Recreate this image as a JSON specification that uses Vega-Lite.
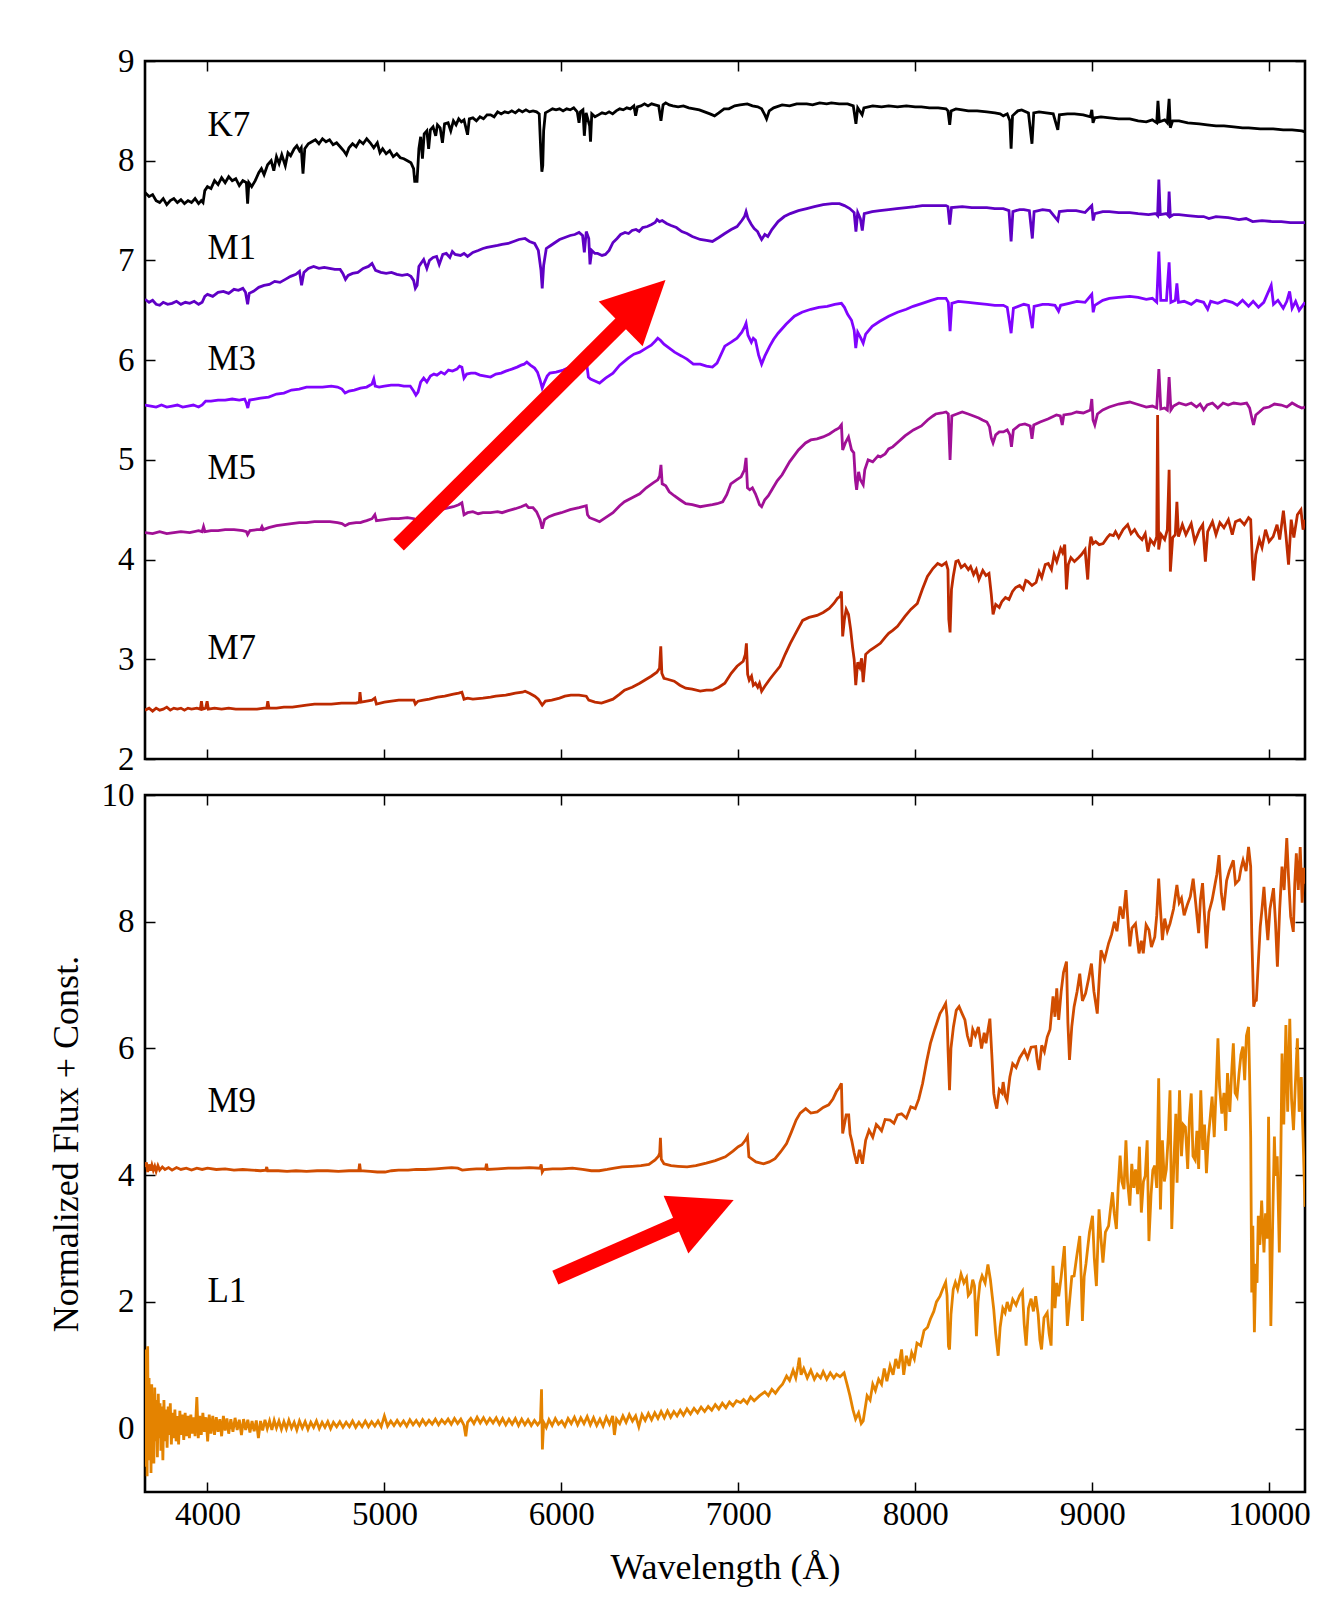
{
"$schema":"https://vega.github.io/schema/vega-lite/v6.json",
"background":"white",
"padding":{"left":46,"top":43,"right":10,"bottom":10},
"spacing":36,
"bounds":"flush",
"config":{
"view":{"stroke":"black","strokeWidth":2.6},
"axis":{"domain":false,"grid":false,"ticks":true,"tickColor":"black","tickWidth":1.5,"tickSize":-10,"labelFont":"Liberation Serif","labelFontSize":33,"labelColor":"black","titleFont":"Liberation Serif","titleFontSize":36,"titleFontWeight":"normal","titleColor":"black","labelFlush":false,"labelOverlap":false},
"axisX":{"labelPadding":16,"titlePadding":19},
"axisY":{"labelPadding":21,"titlePadding":16},
"text":{"font":"Liberation Serif"}
},
"datasets":{
"top":[
{"s":"K7","w":3647,"f":7.68},{"s":"K7","w":3670,"f":7.64},{"s":"K7","w":3690,"f":7.66},{"s":"K7","w":3710,"f":7.6},{"s":"K7","w":3730,"f":7.58},{"s":"K7","w":3750,"f":7.62},{"s":"K7","w":3770,"f":7.56},{"s":"K7","w":3790,"f":7.6},{"s":"K7","w":3810,"f":7.62},{"s":"K7","w":3830,"f":7.58},{"s":"K7","w":3850,"f":7.61},{"s":"K7","w":3870,"f":7.57},{"s":"K7","w":3890,"f":7.6},{"s":"K7","w":3910,"f":7.58},{"s":"K7","w":3930,"f":7.62},{"s":"K7","w":3950,"f":7.57},{"s":"K7","w":3965,"f":7.6},{"s":"K7","w":3975,"f":7.58},{"s":"K7","w":3985,"f":7.7},{"s":"K7","w":4000,"f":7.74},{"s":"K7","w":4020,"f":7.72},{"s":"K7","w":4040,"f":7.8},{"s":"K7","w":4060,"f":7.76},{"s":"K7","w":4080,"f":7.83},{"s":"K7","w":4100,"f":7.78},{"s":"K7","w":4120,"f":7.84},{"s":"K7","w":4140,"f":7.8},{"s":"K7","w":4160,"f":7.82},{"s":"K7","w":4180,"f":7.75},{"s":"K7","w":4200,"f":7.8},{"s":"K7","w":4220,"f":7.78},{"s":"K7","w":4227,"f":7.57},{"s":"K7","w":4234,"f":7.78},{"s":"K7","w":4250,"f":7.74},{"s":"K7","w":4270,"f":7.8},{"s":"K7","w":4290,"f":7.88},{"s":"K7","w":4305,"f":7.92},{"s":"K7","w":4320,"f":7.86},{"s":"K7","w":4340,"f":7.96},{"s":"K7","w":4360,"f":8.0},{"s":"K7","w":4375,"f":7.9},{"s":"K7","w":4390,"f":8.04},{"s":"K7","w":4405,"f":7.97},{"s":"K7","w":4420,"f":8.06},{"s":"K7","w":4440,"f":7.95},{"s":"K7","w":4455,"f":8.08},{"s":"K7","w":4470,"f":8.05},{"s":"K7","w":4490,"f":8.12},{"s":"K7","w":4505,"f":8.15},{"s":"K7","w":4520,"f":8.1},{"s":"K7","w":4530,"f":8.13},{"s":"K7","w":4540,"f":7.87},{"s":"K7","w":4550,"f":8.12},{"s":"K7","w":4570,"f":8.17},{"s":"K7","w":4590,"f":8.19},{"s":"K7","w":4610,"f":8.21},{"s":"K7","w":4630,"f":8.17},{"s":"K7","w":4650,"f":8.22},{"s":"K7","w":4670,"f":8.19},{"s":"K7","w":4690,"f":8.21},{"s":"K7","w":4710,"f":8.16},{"s":"K7","w":4730,"f":8.18},{"s":"K7","w":4750,"f":8.14},{"s":"K7","w":4770,"f":8.1},{"s":"K7","w":4785,"f":8.06},{"s":"K7","w":4800,"f":8.13},{"s":"K7","w":4820,"f":8.17},{"s":"K7","w":4840,"f":8.14},{"s":"K7","w":4860,"f":8.2},{"s":"K7","w":4880,"f":8.17},{"s":"K7","w":4900,"f":8.22},{"s":"K7","w":4920,"f":8.18},{"s":"K7","w":4940,"f":8.13},{"s":"K7","w":4960,"f":8.18},{"s":"K7","w":4975,"f":8.08},{"s":"K7","w":4990,"f":8.12},{"s":"K7","w":5010,"f":8.07},{"s":"K7","w":5030,"f":8.1},{"s":"K7","w":5050,"f":8.04},{"s":"K7","w":5070,"f":8.07},{"s":"K7","w":5090,"f":8.03},{"s":"K7","w":5110,"f":8.02},{"s":"K7","w":5130,"f":8.0},{"s":"K7","w":5150,"f":7.98},{"s":"K7","w":5165,"f":7.92},{"s":"K7","w":5172,"f":7.78},{"s":"K7","w":5178,"f":7.85},{"s":"K7","w":5184,"f":7.78},{"s":"K7","w":5195,"f":8.12},{"s":"K7","w":5205,"f":8.24},{"s":"K7","w":5215,"f":8.02},{"s":"K7","w":5225,"f":8.27},{"s":"K7","w":5240,"f":8.3},{"s":"K7","w":5250,"f":8.12},{"s":"K7","w":5260,"f":8.31},{"s":"K7","w":5275,"f":8.34},{"s":"K7","w":5290,"f":8.25},{"s":"K7","w":5300,"f":8.36},{"s":"K7","w":5315,"f":8.33},{"s":"K7","w":5328,"f":8.18},{"s":"K7","w":5340,"f":8.37},{"s":"K7","w":5360,"f":8.38},{"s":"K7","w":5375,"f":8.3},{"s":"K7","w":5390,"f":8.4},{"s":"K7","w":5405,"f":8.36},{"s":"K7","w":5420,"f":8.42},{"s":"K7","w":5435,"f":8.39},{"s":"K7","w":5450,"f":8.41},{"s":"K7","w":5470,"f":8.26},{"s":"K7","w":5480,"f":8.42},{"s":"K7","w":5500,"f":8.43},{"s":"K7","w":5520,"f":8.4},{"s":"K7","w":5540,"f":8.44},{"s":"K7","w":5560,"f":8.42},{"s":"K7","w":5580,"f":8.46},{"s":"K7","w":5600,"f":8.46},{"s":"K7","w":5620,"f":8.44},{"s":"K7","w":5640,"f":8.49},{"s":"K7","w":5660,"f":8.47},{"s":"K7","w":5680,"f":8.49},{"s":"K7","w":5700,"f":8.48},{"s":"K7","w":5720,"f":8.5},{"s":"K7","w":5740,"f":8.48},{"s":"K7","w":5760,"f":8.51},{"s":"K7","w":5780,"f":8.49},{"s":"K7","w":5800,"f":8.51},{"s":"K7","w":5820,"f":8.49},{"s":"K7","w":5840,"f":8.5},{"s":"K7","w":5860,"f":8.49},{"s":"K7","w":5875,"f":8.47},{"s":"K7","w":5885,"f":8.05},{"s":"K7","w":5890,"f":7.89},{"s":"K7","w":5895,"f":7.95},{"s":"K7","w":5900,"f":8.3},{"s":"K7","w":5910,"f":8.48},{"s":"K7","w":5930,"f":8.5},{"s":"K7","w":5950,"f":8.52},{"s":"K7","w":5970,"f":8.51},{"s":"K7","w":5990,"f":8.52},{"s":"K7","w":6010,"f":8.5},{"s":"K7","w":6030,"f":8.52},{"s":"K7","w":6050,"f":8.51},{"s":"K7","w":6070,"f":8.53},{"s":"K7","w":6090,"f":8.49},{"s":"K7","w":6100,"f":8.38},{"s":"K7","w":6108,"f":8.49},{"s":"K7","w":6122,"f":8.51},{"s":"K7","w":6130,"f":8.25},{"s":"K7","w":6140,"f":8.48},{"s":"K7","w":6160,"f":8.35},{"s":"K7","w":6165,"f":8.19},{"s":"K7","w":6172,"f":8.47},{"s":"K7","w":6190,"f":8.44},{"s":"K7","w":6210,"f":8.46},{"s":"K7","w":6230,"f":8.48},{"s":"K7","w":6250,"f":8.47},{"s":"K7","w":6270,"f":8.49},{"s":"K7","w":6290,"f":8.47},{"s":"K7","w":6310,"f":8.5},{"s":"K7","w":6330,"f":8.52},{"s":"K7","w":6350,"f":8.51},{"s":"K7","w":6370,"f":8.53},{"s":"K7","w":6390,"f":8.52},{"s":"K7","w":6410,"f":8.55},{"s":"K7","w":6420,"f":8.45},{"s":"K7","w":6430,"f":8.54},{"s":"K7","w":6450,"f":8.55},{"s":"K7","w":6470,"f":8.57},{"s":"K7","w":6490,"f":8.55},{"s":"K7","w":6510,"f":8.57},{"s":"K7","w":6530,"f":8.56},{"s":"K7","w":6550,"f":8.55},{"s":"K7","w":6563,"f":8.4},{"s":"K7","w":6575,"f":8.56},{"s":"K7","w":6590,"f":8.58},{"s":"K7","w":6610,"f":8.56},{"s":"K7","w":6630,"f":8.55},{"s":"K7","w":6660,"f":8.54},{"s":"K7","w":6690,"f":8.55},{"s":"K7","w":6720,"f":8.53},{"s":"K7","w":6750,"f":8.52},{"s":"K7","w":6780,"f":8.51},{"s":"K7","w":6810,"f":8.49},{"s":"K7","w":6840,"f":8.47},{"s":"K7","w":6866,"f":8.45},{"s":"K7","w":6890,"f":8.48},{"s":"K7","w":6920,"f":8.52},{"s":"K7","w":6947,"f":8.52},{"s":"K7","w":6980,"f":8.55},{"s":"K7","w":7010,"f":8.56},{"s":"K7","w":7051,"f":8.57},{"s":"K7","w":7080,"f":8.55},{"s":"K7","w":7110,"f":8.54},{"s":"K7","w":7132,"f":8.52},{"s":"K7","w":7150,"f":8.46},{"s":"K7","w":7160,"f":8.42},{"s":"K7","w":7175,"f":8.5},{"s":"K7","w":7200,"f":8.53},{"s":"K7","w":7248,"f":8.56},{"s":"K7","w":7290,"f":8.55},{"s":"K7","w":7330,"f":8.57},{"s":"K7","w":7387,"f":8.57},{"s":"K7","w":7420,"f":8.56},{"s":"K7","w":7460,"f":8.58},{"s":"K7","w":7500,"f":8.57},{"s":"K7","w":7526,"f":8.58},{"s":"K7","w":7570,"f":8.57},{"s":"K7","w":7618,"f":8.57},{"s":"K7","w":7650,"f":8.55},{"s":"K7","w":7665,"f":8.37},{"s":"K7","w":7675,"f":8.53},{"s":"K7","w":7700,"f":8.46},{"s":"K7","w":7710,"f":8.53},{"s":"K7","w":7760,"f":8.55},{"s":"K7","w":7810,"f":8.54},{"s":"K7","w":7850,"f":8.55},{"s":"K7","w":7900,"f":8.54},{"s":"K7","w":7950,"f":8.55},{"s":"K7","w":8000,"f":8.54},{"s":"K7","w":8035,"f":8.54},{"s":"K7","w":8080,"f":8.53},{"s":"K7","w":8130,"f":8.53},{"s":"K7","w":8174,"f":8.52},{"s":"K7","w":8185,"f":8.5},{"s":"K7","w":8195,"f":8.36},{"s":"K7","w":8203,"f":8.5},{"s":"K7","w":8230,"f":8.52},{"s":"K7","w":8266,"f":8.51},{"s":"K7","w":8300,"f":8.5},{"s":"K7","w":8350,"f":8.5},{"s":"K7","w":8405,"f":8.49},{"s":"K7","w":8450,"f":8.48},{"s":"K7","w":8480,"f":8.47},{"s":"K7","w":8498,"f":8.45},{"s":"K7","w":8520,"f":8.47},{"s":"K7","w":8535,"f":8.4},{"s":"K7","w":8542,"f":8.12},{"s":"K7","w":8550,"f":8.45},{"s":"K7","w":8580,"f":8.5},{"s":"K7","w":8602,"f":8.51},{"s":"K7","w":8640,"f":8.48},{"s":"K7","w":8660,"f":8.17},{"s":"K7","w":8670,"f":8.48},{"s":"K7","w":8700,"f":8.49},{"s":"K7","w":8740,"f":8.48},{"s":"K7","w":8780,"f":8.47},{"s":"K7","w":8806,"f":8.31},{"s":"K7","w":8815,"f":8.46},{"s":"K7","w":8860,"f":8.47},{"s":"K7","w":8900,"f":8.47},{"s":"K7","w":8950,"f":8.46},{"s":"K7","w":8990,"f":8.44},{"s":"K7","w":8998,"f":8.51},{"s":"K7","w":9005,"f":8.38},{"s":"K7","w":9015,"f":8.43},{"s":"K7","w":9050,"f":8.44},{"s":"K7","w":9100,"f":8.43},{"s":"K7","w":9150,"f":8.42},{"s":"K7","w":9213,"f":8.42},{"s":"K7","w":9260,"f":8.4},{"s":"K7","w":9306,"f":8.39},{"s":"K7","w":9340,"f":8.41},{"s":"K7","w":9365,"f":8.38},{"s":"K7","w":9372,"f":8.6},{"s":"K7","w":9380,"f":8.39},{"s":"K7","w":9410,"f":8.41},{"s":"K7","w":9425,"f":8.38},{"s":"K7","w":9435,"f":8.62},{"s":"K7","w":9442,"f":8.33},{"s":"K7","w":9455,"f":8.4},{"s":"K7","w":9491,"f":8.4},{"s":"K7","w":9540,"f":8.38},{"s":"K7","w":9606,"f":8.37},{"s":"K7","w":9650,"f":8.36},{"s":"K7","w":9700,"f":8.35},{"s":"K7","w":9745,"f":8.35},{"s":"K7","w":9800,"f":8.34},{"s":"K7","w":9850,"f":8.33},{"s":"K7","w":9884,"f":8.33},{"s":"K7","w":9950,"f":8.32},{"s":"K7","w":10023,"f":8.32},{"s":"K7","w":10080,"f":8.31},{"s":"K7","w":10130,"f":8.31},{"s":"K7","w":10185,"f":8.3},{"s":"K7","w":10203,"f":8.29},
{"s":"M1","w":3647,"f":6.61},{"s":"M1","w":3670,"f":6.58},{"s":"M1","w":3690,"f":6.6},{"s":"M1","w":3710,"f":6.56},{"s":"M1","w":3730,"f":6.55},{"s":"M1","w":3750,"f":6.58},{"s":"M1","w":3775,"f":6.56},{"s":"M1","w":3800,"f":6.57},{"s":"M1","w":3825,"f":6.59},{"s":"M1","w":3850,"f":6.56},{"s":"M1","w":3875,"f":6.58},{"s":"M1","w":3900,"f":6.57},{"s":"M1","w":3925,"f":6.59},{"s":"M1","w":3950,"f":6.56},{"s":"M1","w":3970,"f":6.58},{"s":"M1","w":3985,"f":6.64},{"s":"M1","w":4000,"f":6.66},{"s":"M1","w":4030,"f":6.64},{"s":"M1","w":4060,"f":6.68},{"s":"M1","w":4090,"f":6.69},{"s":"M1","w":4120,"f":6.67},{"s":"M1","w":4150,"f":6.71},{"s":"M1","w":4175,"f":6.7},{"s":"M1","w":4200,"f":6.72},{"s":"M1","w":4215,"f":6.68},{"s":"M1","w":4227,"f":6.56},{"s":"M1","w":4236,"f":6.67},{"s":"M1","w":4260,"f":6.69},{"s":"M1","w":4290,"f":6.73},{"s":"M1","w":4320,"f":6.75},{"s":"M1","w":4350,"f":6.76},{"s":"M1","w":4380,"f":6.79},{"s":"M1","w":4410,"f":6.78},{"s":"M1","w":4440,"f":6.81},{"s":"M1","w":4470,"f":6.84},{"s":"M1","w":4500,"f":6.86},{"s":"M1","w":4520,"f":6.89},{"s":"M1","w":4532,"f":6.75},{"s":"M1","w":4545,"f":6.88},{"s":"M1","w":4570,"f":6.92},{"s":"M1","w":4600,"f":6.94},{"s":"M1","w":4630,"f":6.92},{"s":"M1","w":4660,"f":6.93},{"s":"M1","w":4690,"f":6.92},{"s":"M1","w":4720,"f":6.91},{"s":"M1","w":4750,"f":6.91},{"s":"M1","w":4765,"f":6.87},{"s":"M1","w":4780,"f":6.81},{"s":"M1","w":4795,"f":6.85},{"s":"M1","w":4820,"f":6.87},{"s":"M1","w":4850,"f":6.88},{"s":"M1","w":4880,"f":6.92},{"s":"M1","w":4910,"f":6.94},{"s":"M1","w":4930,"f":6.97},{"s":"M1","w":4950,"f":6.9},{"s":"M1","w":4980,"f":6.88},{"s":"M1","w":5010,"f":6.87},{"s":"M1","w":5040,"f":6.88},{"s":"M1","w":5070,"f":6.86},{"s":"M1","w":5100,"f":6.85},{"s":"M1","w":5130,"f":6.86},{"s":"M1","w":5150,"f":6.84},{"s":"M1","w":5165,"f":6.8},{"s":"M1","w":5175,"f":6.72},{"s":"M1","w":5185,"f":6.75},{"s":"M1","w":5195,"f":6.94},{"s":"M1","w":5210,"f":6.98},{"s":"M1","w":5222,"f":7.01},{"s":"M1","w":5240,"f":6.92},{"s":"M1","w":5255,"f":7.0},{"s":"M1","w":5275,"f":7.03},{"s":"M1","w":5295,"f":7.04},{"s":"M1","w":5310,"f":6.96},{"s":"M1","w":5330,"f":7.06},{"s":"M1","w":5350,"f":7.07},{"s":"M1","w":5370,"f":7.03},{"s":"M1","w":5384,"f":7.09},{"s":"M1","w":5400,"f":7.06},{"s":"M1","w":5430,"f":7.05},{"s":"M1","w":5450,"f":7.07},{"s":"M1","w":5470,"f":7.04},{"s":"M1","w":5500,"f":7.08},{"s":"M1","w":5530,"f":7.1},{"s":"M1","w":5557,"f":7.12},{"s":"M1","w":5580,"f":7.13},{"s":"M1","w":5610,"f":7.14},{"s":"M1","w":5640,"f":7.15},{"s":"M1","w":5665,"f":7.16},{"s":"M1","w":5700,"f":7.17},{"s":"M1","w":5730,"f":7.19},{"s":"M1","w":5760,"f":7.21},{"s":"M1","w":5795,"f":7.22},{"s":"M1","w":5820,"f":7.19},{"s":"M1","w":5849,"f":7.17},{"s":"M1","w":5870,"f":7.1},{"s":"M1","w":5885,"f":6.9},{"s":"M1","w":5892,"f":6.72},{"s":"M1","w":5900,"f":6.95},{"s":"M1","w":5915,"f":7.12},{"s":"M1","w":5940,"f":7.15},{"s":"M1","w":5965,"f":7.18},{"s":"M1","w":5990,"f":7.21},{"s":"M1","w":6020,"f":7.23},{"s":"M1","w":6050,"f":7.25},{"s":"M1","w":6076,"f":7.26},{"s":"M1","w":6100,"f":7.28},{"s":"M1","w":6120,"f":7.25},{"s":"M1","w":6130,"f":7.08},{"s":"M1","w":6141,"f":7.29},{"s":"M1","w":6155,"f":7.22},{"s":"M1","w":6162,"f":6.96},{"s":"M1","w":6172,"f":7.1},{"s":"M1","w":6190,"f":7.07},{"s":"M1","w":6205,"f":7.07},{"s":"M1","w":6230,"f":7.05},{"s":"M1","w":6249,"f":7.06},{"s":"M1","w":6270,"f":7.1},{"s":"M1","w":6292,"f":7.18},{"s":"M1","w":6315,"f":7.22},{"s":"M1","w":6335,"f":7.26},{"s":"M1","w":6360,"f":7.28},{"s":"M1","w":6380,"f":7.27},{"s":"M1","w":6400,"f":7.3},{"s":"M1","w":6422,"f":7.31},{"s":"M1","w":6440,"f":7.29},{"s":"M1","w":6460,"f":7.33},{"s":"M1","w":6486,"f":7.34},{"s":"M1","w":6510,"f":7.36},{"s":"M1","w":6530,"f":7.38},{"s":"M1","w":6541,"f":7.41},{"s":"M1","w":6555,"f":7.39},{"s":"M1","w":6570,"f":7.4},{"s":"M1","w":6595,"f":7.37},{"s":"M1","w":6620,"f":7.35},{"s":"M1","w":6650,"f":7.33},{"s":"M1","w":6681,"f":7.29},{"s":"M1","w":6710,"f":7.27},{"s":"M1","w":6740,"f":7.24},{"s":"M1","w":6785,"f":7.21},{"s":"M1","w":6820,"f":7.2},{"s":"M1","w":6854,"f":7.19},{"s":"M1","w":6890,"f":7.23},{"s":"M1","w":6924,"f":7.27},{"s":"M1","w":6960,"f":7.31},{"s":"M1","w":6993,"f":7.34},{"s":"M1","w":7020,"f":7.4},{"s":"M1","w":7035,"f":7.44},{"s":"M1","w":7044,"f":7.49},{"s":"M1","w":7055,"f":7.42},{"s":"M1","w":7074,"f":7.36},{"s":"M1","w":7090,"f":7.32},{"s":"M1","w":7109,"f":7.29},{"s":"M1","w":7120,"f":7.25},{"s":"M1","w":7132,"f":7.21},{"s":"M1","w":7150,"f":7.26},{"s":"M1","w":7167,"f":7.24},{"s":"M1","w":7190,"f":7.31},{"s":"M1","w":7225,"f":7.39},{"s":"M1","w":7260,"f":7.44},{"s":"M1","w":7294,"f":7.47},{"s":"M1","w":7340,"f":7.5},{"s":"M1","w":7387,"f":7.52},{"s":"M1","w":7430,"f":7.54},{"s":"M1","w":7480,"f":7.56},{"s":"M1","w":7530,"f":7.57},{"s":"M1","w":7572,"f":7.57},{"s":"M1","w":7600,"f":7.55},{"s":"M1","w":7630,"f":7.52},{"s":"M1","w":7655,"f":7.48},{"s":"M1","w":7665,"f":7.29},{"s":"M1","w":7675,"f":7.48},{"s":"M1","w":7690,"f":7.42},{"s":"M1","w":7701,"f":7.3},{"s":"M1","w":7712,"f":7.47},{"s":"M1","w":7757,"f":7.49},{"s":"M1","w":7800,"f":7.5},{"s":"M1","w":7850,"f":7.51},{"s":"M1","w":7896,"f":7.52},{"s":"M1","w":7950,"f":7.53},{"s":"M1","w":8000,"f":7.54},{"s":"M1","w":8040,"f":7.55},{"s":"M1","w":8081,"f":7.55},{"s":"M1","w":8130,"f":7.55},{"s":"M1","w":8174,"f":7.55},{"s":"M1","w":8185,"f":7.54},{"s":"M1","w":8195,"f":7.36},{"s":"M1","w":8205,"f":7.53},{"s":"M1","w":8266,"f":7.54},{"s":"M1","w":8320,"f":7.53},{"s":"M1","w":8360,"f":7.53},{"s":"M1","w":8405,"f":7.53},{"s":"M1","w":8450,"f":7.52},{"s":"M1","w":8498,"f":7.52},{"s":"M1","w":8530,"f":7.5},{"s":"M1","w":8542,"f":7.19},{"s":"M1","w":8552,"f":7.49},{"s":"M1","w":8590,"f":7.51},{"s":"M1","w":8614,"f":7.51},{"s":"M1","w":8645,"f":7.5},{"s":"M1","w":8662,"f":7.22},{"s":"M1","w":8672,"f":7.49},{"s":"M1","w":8720,"f":7.51},{"s":"M1","w":8760,"f":7.5},{"s":"M1","w":8806,"f":7.4},{"s":"M1","w":8815,"f":7.49},{"s":"M1","w":8860,"f":7.5},{"s":"M1","w":8910,"f":7.5},{"s":"M1","w":8960,"f":7.48},{"s":"M1","w":8998,"f":7.55},{"s":"M1","w":9006,"f":7.4},{"s":"M1","w":9015,"f":7.47},{"s":"M1","w":9060,"f":7.49},{"s":"M1","w":9097,"f":7.49},{"s":"M1","w":9150,"f":7.48},{"s":"M1","w":9213,"f":7.48},{"s":"M1","w":9260,"f":7.47},{"s":"M1","w":9319,"f":7.46},{"s":"M1","w":9360,"f":7.47},{"s":"M1","w":9370,"f":7.45},{"s":"M1","w":9377,"f":7.81},{"s":"M1","w":9385,"f":7.46},{"s":"M1","w":9420,"f":7.47},{"s":"M1","w":9430,"f":7.45},{"s":"M1","w":9435,"f":7.69},{"s":"M1","w":9442,"f":7.44},{"s":"M1","w":9460,"f":7.46},{"s":"M1","w":9491,"f":7.46},{"s":"M1","w":9540,"f":7.45},{"s":"M1","w":9600,"f":7.44},{"s":"M1","w":9630,"f":7.44},{"s":"M1","w":9660,"f":7.42},{"s":"M1","w":9700,"f":7.44},{"s":"M1","w":9769,"f":7.43},{"s":"M1","w":9830,"f":7.41},{"s":"M1","w":9870,"f":7.42},{"s":"M1","w":9907,"f":7.39},{"s":"M1","w":9960,"f":7.4},{"s":"M1","w":10020,"f":7.39},{"s":"M1","w":10069,"f":7.39},{"s":"M1","w":10120,"f":7.38},{"s":"M1","w":10170,"f":7.38},{"s":"M1","w":10203,"f":7.38},
{"s":"M3","w":3647,"f":5.55},{"s":"M3","w":3680,"f":5.54},{"s":"M3","w":3710,"f":5.53},{"s":"M3","w":3740,"f":5.55},{"s":"M3","w":3770,"f":5.53},{"s":"M3","w":3800,"f":5.54},{"s":"M3","w":3830,"f":5.55},{"s":"M3","w":3860,"f":5.53},{"s":"M3","w":3890,"f":5.54},{"s":"M3","w":3920,"f":5.55},{"s":"M3","w":3950,"f":5.53},{"s":"M3","w":3970,"f":5.55},{"s":"M3","w":3990,"f":5.59},{"s":"M3","w":4020,"f":5.59},{"s":"M3","w":4060,"f":5.6},{"s":"M3","w":4100,"f":5.6},{"s":"M3","w":4140,"f":5.61},{"s":"M3","w":4180,"f":5.6},{"s":"M3","w":4210,"f":5.61},{"s":"M3","w":4220,"f":5.57},{"s":"M3","w":4228,"f":5.52},{"s":"M3","w":4238,"f":5.6},{"s":"M3","w":4270,"f":5.61},{"s":"M3","w":4300,"f":5.62},{"s":"M3","w":4346,"f":5.63},{"s":"M3","w":4390,"f":5.66},{"s":"M3","w":4432,"f":5.67},{"s":"M3","w":4475,"f":5.7},{"s":"M3","w":4519,"f":5.71},{"s":"M3","w":4560,"f":5.73},{"s":"M3","w":4605,"f":5.73},{"s":"M3","w":4650,"f":5.73},{"s":"M3","w":4700,"f":5.74},{"s":"M3","w":4735,"f":5.73},{"s":"M3","w":4760,"f":5.71},{"s":"M3","w":4778,"f":5.67},{"s":"M3","w":4800,"f":5.69},{"s":"M3","w":4830,"f":5.7},{"s":"M3","w":4865,"f":5.72},{"s":"M3","w":4900,"f":5.73},{"s":"M3","w":4930,"f":5.76},{"s":"M3","w":4940,"f":5.81},{"s":"M3","w":4948,"f":5.74},{"s":"M3","w":4970,"f":5.73},{"s":"M3","w":5000,"f":5.74},{"s":"M3","w":5038,"f":5.75},{"s":"M3","w":5080,"f":5.75},{"s":"M3","w":5110,"f":5.74},{"s":"M3","w":5146,"f":5.74},{"s":"M3","w":5165,"f":5.69},{"s":"M3","w":5178,"f":5.65},{"s":"M3","w":5190,"f":5.68},{"s":"M3","w":5205,"f":5.78},{"s":"M3","w":5222,"f":5.82},{"s":"M3","w":5240,"f":5.78},{"s":"M3","w":5260,"f":5.84},{"s":"M3","w":5280,"f":5.86},{"s":"M3","w":5297,"f":5.85},{"s":"M3","w":5320,"f":5.88},{"s":"M3","w":5340,"f":5.86},{"s":"M3","w":5362,"f":5.9},{"s":"M3","w":5385,"f":5.89},{"s":"M3","w":5410,"f":5.91},{"s":"M3","w":5425,"f":5.94},{"s":"M3","w":5438,"f":5.93},{"s":"M3","w":5450,"f":5.82},{"s":"M3","w":5465,"f":5.86},{"s":"M3","w":5490,"f":5.87},{"s":"M3","w":5514,"f":5.87},{"s":"M3","w":5540,"f":5.85},{"s":"M3","w":5570,"f":5.84},{"s":"M3","w":5600,"f":5.83},{"s":"M3","w":5630,"f":5.86},{"s":"M3","w":5660,"f":5.87},{"s":"M3","w":5686,"f":5.89},{"s":"M3","w":5720,"f":5.91},{"s":"M3","w":5750,"f":5.93},{"s":"M3","w":5773,"f":5.95},{"s":"M3","w":5790,"f":5.96},{"s":"M3","w":5805,"f":5.98},{"s":"M3","w":5825,"f":5.95},{"s":"M3","w":5849,"f":5.92},{"s":"M3","w":5865,"f":5.88},{"s":"M3","w":5880,"f":5.8},{"s":"M3","w":5892,"f":5.72},{"s":"M3","w":5905,"f":5.78},{"s":"M3","w":5920,"f":5.84},{"s":"M3","w":5935,"f":5.87},{"s":"M3","w":5970,"f":5.88},{"s":"M3","w":6011,"f":5.9},{"s":"M3","w":6050,"f":5.93},{"s":"M3","w":6097,"f":5.97},{"s":"M3","w":6130,"f":5.98},{"s":"M3","w":6141,"f":5.99},{"s":"M3","w":6148,"f":5.9},{"s":"M3","w":6153,"f":5.83},{"s":"M3","w":6165,"f":5.81},{"s":"M3","w":6190,"f":5.79},{"s":"M3","w":6216,"f":5.77},{"s":"M3","w":6250,"f":5.82},{"s":"M3","w":6292,"f":5.87},{"s":"M3","w":6330,"f":5.95},{"s":"M3","w":6378,"f":6.02},{"s":"M3","w":6410,"f":6.06},{"s":"M3","w":6443,"f":6.08},{"s":"M3","w":6480,"f":6.12},{"s":"M3","w":6508,"f":6.15},{"s":"M3","w":6530,"f":6.19},{"s":"M3","w":6545,"f":6.22},{"s":"M3","w":6560,"f":6.2},{"s":"M3","w":6580,"f":6.16},{"s":"M3","w":6610,"f":6.12},{"s":"M3","w":6640,"f":6.08},{"s":"M3","w":6681,"f":6.04},{"s":"M3","w":6710,"f":6.01},{"s":"M3","w":6746,"f":5.96},{"s":"M3","w":6785,"f":5.96},{"s":"M3","w":6820,"f":5.94},{"s":"M3","w":6854,"f":5.93},{"s":"M3","w":6880,"f":5.97},{"s":"M3","w":6924,"f":6.14},{"s":"M3","w":6960,"f":6.18},{"s":"M3","w":6993,"f":6.22},{"s":"M3","w":7020,"f":6.28},{"s":"M3","w":7035,"f":6.33},{"s":"M3","w":7044,"f":6.37},{"s":"M3","w":7055,"f":6.25},{"s":"M3","w":7074,"f":6.18},{"s":"M3","w":7085,"f":6.22},{"s":"M3","w":7097,"f":6.2},{"s":"M3","w":7115,"f":6.05},{"s":"M3","w":7132,"f":5.96},{"s":"M3","w":7150,"f":6.04},{"s":"M3","w":7178,"f":6.14},{"s":"M3","w":7200,"f":6.21},{"s":"M3","w":7225,"f":6.27},{"s":"M3","w":7270,"f":6.36},{"s":"M3","w":7317,"f":6.44},{"s":"M3","w":7360,"f":6.48},{"s":"M3","w":7410,"f":6.51},{"s":"M3","w":7455,"f":6.53},{"s":"M3","w":7503,"f":6.54},{"s":"M3","w":7545,"f":6.56},{"s":"M3","w":7583,"f":6.57},{"s":"M3","w":7600,"f":6.53},{"s":"M3","w":7618,"f":6.46},{"s":"M3","w":7640,"f":6.4},{"s":"M3","w":7655,"f":6.3},{"s":"M3","w":7664,"f":6.12},{"s":"M3","w":7675,"f":6.28},{"s":"M3","w":7690,"f":6.23},{"s":"M3","w":7706,"f":6.17},{"s":"M3","w":7720,"f":6.26},{"s":"M3","w":7757,"f":6.34},{"s":"M3","w":7800,"f":6.39},{"s":"M3","w":7850,"f":6.44},{"s":"M3","w":7900,"f":6.48},{"s":"M3","w":7950,"f":6.51},{"s":"M3","w":7988,"f":6.54},{"s":"M3","w":8040,"f":6.57},{"s":"M3","w":8090,"f":6.6},{"s":"M3","w":8127,"f":6.62},{"s":"M3","w":8174,"f":6.62},{"s":"M3","w":8187,"f":6.58},{"s":"M3","w":8197,"f":6.29},{"s":"M3","w":8207,"f":6.57},{"s":"M3","w":8243,"f":6.59},{"s":"M3","w":8300,"f":6.58},{"s":"M3","w":8350,"f":6.57},{"s":"M3","w":8405,"f":6.56},{"s":"M3","w":8450,"f":6.55},{"s":"M3","w":8498,"f":6.55},{"s":"M3","w":8520,"f":6.53},{"s":"M3","w":8542,"f":6.27},{"s":"M3","w":8555,"f":6.52},{"s":"M3","w":8614,"f":6.56},{"s":"M3","w":8640,"f":6.55},{"s":"M3","w":8662,"f":6.32},{"s":"M3","w":8672,"f":6.54},{"s":"M3","w":8720,"f":6.56},{"s":"M3","w":8752,"f":6.56},{"s":"M3","w":8790,"f":6.55},{"s":"M3","w":8810,"f":6.49},{"s":"M3","w":8822,"f":6.55},{"s":"M3","w":8870,"f":6.57},{"s":"M3","w":8914,"f":6.59},{"s":"M3","w":8960,"f":6.58},{"s":"M3","w":8998,"f":6.66},{"s":"M3","w":9006,"f":6.48},{"s":"M3","w":9015,"f":6.55},{"s":"M3","w":9060,"f":6.6},{"s":"M3","w":9097,"f":6.62},{"s":"M3","w":9150,"f":6.63},{"s":"M3","w":9213,"f":6.64},{"s":"M3","w":9260,"f":6.63},{"s":"M3","w":9306,"f":6.61},{"s":"M3","w":9340,"f":6.62},{"s":"M3","w":9365,"f":6.58},{"s":"M3","w":9377,"f":7.09},{"s":"M3","w":9388,"f":6.6},{"s":"M3","w":9420,"f":6.6},{"s":"M3","w":9435,"f":6.98},{"s":"M3","w":9445,"f":6.58},{"s":"M3","w":9470,"f":6.6},{"s":"M3","w":9479,"f":6.77},{"s":"M3","w":9488,"f":6.58},{"s":"M3","w":9520,"f":6.59},{"s":"M3","w":9560,"f":6.56},{"s":"M3","w":9590,"f":6.6},{"s":"M3","w":9630,"f":6.58},{"s":"M3","w":9653,"f":6.51},{"s":"M3","w":9670,"f":6.59},{"s":"M3","w":9710,"f":6.57},{"s":"M3","w":9750,"f":6.6},{"s":"M3","w":9792,"f":6.58},{"s":"M3","w":9820,"f":6.55},{"s":"M3","w":9850,"f":6.6},{"s":"M3","w":9884,"f":6.54},{"s":"M3","w":9910,"f":6.59},{"s":"M3","w":9940,"f":6.53},{"s":"M3","w":9970,"f":6.58},{"s":"M3","w":10012,"f":6.75},{"s":"M3","w":10025,"f":6.56},{"s":"M3","w":10050,"f":6.6},{"s":"M3","w":10080,"f":6.52},{"s":"M3","w":10100,"f":6.59},{"s":"M3","w":10116,"f":6.69},{"s":"M3","w":10130,"f":6.52},{"s":"M3","w":10150,"f":6.59},{"s":"M3","w":10170,"f":6.5},{"s":"M3","w":10203,"f":6.58},
{"s":"M5","w":3647,"f":4.27},{"s":"M5","w":3690,"f":4.26},{"s":"M5","w":3730,"f":4.28},{"s":"M5","w":3770,"f":4.26},{"s":"M5","w":3810,"f":4.27},{"s":"M5","w":3850,"f":4.28},{"s":"M5","w":3900,"f":4.27},{"s":"M5","w":3950,"f":4.29},{"s":"M5","w":3970,"f":4.28},{"s":"M5","w":3978,"f":4.33},{"s":"M5","w":3986,"f":4.28},{"s":"M5","w":4020,"f":4.29},{"s":"M5","w":4060,"f":4.29},{"s":"M5","w":4100,"f":4.3},{"s":"M5","w":4150,"f":4.3},{"s":"M5","w":4200,"f":4.29},{"s":"M5","w":4220,"f":4.28},{"s":"M5","w":4227,"f":4.25},{"s":"M5","w":4240,"f":4.29},{"s":"M5","w":4280,"f":4.3},{"s":"M5","w":4300,"f":4.3},{"s":"M5","w":4308,"f":4.33},{"s":"M5","w":4315,"f":4.3},{"s":"M5","w":4346,"f":4.32},{"s":"M5","w":4390,"f":4.34},{"s":"M5","w":4432,"f":4.35},{"s":"M5","w":4475,"f":4.36},{"s":"M5","w":4519,"f":4.37},{"s":"M5","w":4560,"f":4.37},{"s":"M5","w":4605,"f":4.38},{"s":"M5","w":4650,"f":4.38},{"s":"M5","w":4692,"f":4.38},{"s":"M5","w":4735,"f":4.37},{"s":"M5","w":4760,"f":4.36},{"s":"M5","w":4778,"f":4.34},{"s":"M5","w":4800,"f":4.36},{"s":"M5","w":4840,"f":4.37},{"s":"M5","w":4865,"f":4.37},{"s":"M5","w":4880,"f":4.38},{"s":"M5","w":4900,"f":4.39},{"s":"M5","w":4930,"f":4.41},{"s":"M5","w":4946,"f":4.45},{"s":"M5","w":4955,"f":4.39},{"s":"M5","w":5000,"f":4.4},{"s":"M5","w":5040,"f":4.41},{"s":"M5","w":5081,"f":4.41},{"s":"M5","w":5130,"f":4.42},{"s":"M5","w":5167,"f":4.41},{"s":"M5","w":5178,"f":4.37},{"s":"M5","w":5190,"f":4.4},{"s":"M5","w":5220,"f":4.46},{"s":"M5","w":5254,"f":4.47},{"s":"M5","w":5300,"f":4.49},{"s":"M5","w":5341,"f":4.51},{"s":"M5","w":5390,"f":4.53},{"s":"M5","w":5420,"f":4.55},{"s":"M5","w":5438,"f":4.57},{"s":"M5","w":5450,"f":4.45},{"s":"M5","w":5470,"f":4.47},{"s":"M5","w":5500,"f":4.48},{"s":"M5","w":5530,"f":4.46},{"s":"M5","w":5557,"f":4.47},{"s":"M5","w":5600,"f":4.47},{"s":"M5","w":5640,"f":4.48},{"s":"M5","w":5665,"f":4.47},{"s":"M5","w":5700,"f":4.49},{"s":"M5","w":5740,"f":4.51},{"s":"M5","w":5773,"f":4.53},{"s":"M5","w":5800,"f":4.55},{"s":"M5","w":5815,"f":4.52},{"s":"M5","w":5840,"f":4.52},{"s":"M5","w":5860,"f":4.48},{"s":"M5","w":5880,"f":4.4},{"s":"M5","w":5892,"f":4.31},{"s":"M5","w":5905,"f":4.4},{"s":"M5","w":5930,"f":4.43},{"s":"M5","w":5960,"f":4.45},{"s":"M5","w":6000,"f":4.47},{"s":"M5","w":6050,"f":4.5},{"s":"M5","w":6100,"f":4.52},{"s":"M5","w":6141,"f":4.54},{"s":"M5","w":6148,"f":4.45},{"s":"M5","w":6160,"f":4.42},{"s":"M5","w":6190,"f":4.4},{"s":"M5","w":6216,"f":4.38},{"s":"M5","w":6250,"f":4.42},{"s":"M5","w":6292,"f":4.47},{"s":"M5","w":6330,"f":4.54},{"s":"M5","w":6357,"f":4.58},{"s":"M5","w":6400,"f":4.62},{"s":"M5","w":6443,"f":4.66},{"s":"M5","w":6480,"f":4.72},{"s":"M5","w":6519,"f":4.77},{"s":"M5","w":6545,"f":4.8},{"s":"M5","w":6556,"f":4.84},{"s":"M5","w":6563,"f":4.95},{"s":"M5","w":6570,"f":4.76},{"s":"M5","w":6590,"f":4.74},{"s":"M5","w":6610,"f":4.68},{"s":"M5","w":6638,"f":4.64},{"s":"M5","w":6670,"f":4.6},{"s":"M5","w":6703,"f":4.56},{"s":"M5","w":6740,"f":4.55},{"s":"M5","w":6785,"f":4.53},{"s":"M5","w":6820,"f":4.54},{"s":"M5","w":6854,"f":4.55},{"s":"M5","w":6880,"f":4.56},{"s":"M5","w":6912,"f":4.58},{"s":"M5","w":6935,"f":4.65},{"s":"M5","w":6958,"f":4.76},{"s":"M5","w":6990,"f":4.8},{"s":"M5","w":7016,"f":4.83},{"s":"M5","w":7035,"f":4.9},{"s":"M5","w":7044,"f":5.02},{"s":"M5","w":7052,"f":4.72},{"s":"M5","w":7065,"f":4.7},{"s":"M5","w":7080,"f":4.72},{"s":"M5","w":7097,"f":4.66},{"s":"M5","w":7110,"f":4.6},{"s":"M5","w":7120,"f":4.55},{"s":"M5","w":7132,"f":4.53},{"s":"M5","w":7150,"f":4.6},{"s":"M5","w":7170,"f":4.64},{"s":"M5","w":7190,"f":4.7},{"s":"M5","w":7220,"f":4.79},{"s":"M5","w":7248,"f":4.85},{"s":"M5","w":7290,"f":4.98},{"s":"M5","w":7340,"f":5.1},{"s":"M5","w":7380,"f":5.17},{"s":"M5","w":7410,"f":5.2},{"s":"M5","w":7445,"f":5.21},{"s":"M5","w":7479,"f":5.23},{"s":"M5","w":7515,"f":5.26},{"s":"M5","w":7549,"f":5.3},{"s":"M5","w":7570,"f":5.32},{"s":"M5","w":7583,"f":5.35},{"s":"M5","w":7590,"f":5.1},{"s":"M5","w":7605,"f":5.17},{"s":"M5","w":7623,"f":5.23},{"s":"M5","w":7640,"f":5.1},{"s":"M5","w":7653,"f":5.07},{"s":"M5","w":7662,"f":4.8},{"s":"M5","w":7669,"f":4.7},{"s":"M5","w":7680,"f":4.88},{"s":"M5","w":7690,"f":4.8},{"s":"M5","w":7706,"f":4.75},{"s":"M5","w":7715,"f":4.9},{"s":"M5","w":7734,"f":5.0},{"s":"M5","w":7760,"f":4.98},{"s":"M5","w":7790,"f":5.04},{"s":"M5","w":7803,"f":5.03},{"s":"M5","w":7830,"f":5.06},{"s":"M5","w":7850,"f":5.11},{"s":"M5","w":7873,"f":5.13},{"s":"M5","w":7910,"f":5.19},{"s":"M5","w":7942,"f":5.24},{"s":"M5","w":7990,"f":5.3},{"s":"M5","w":8035,"f":5.34},{"s":"M5","w":8070,"f":5.4},{"s":"M5","w":8100,"f":5.44},{"s":"M5","w":8116,"f":5.46},{"s":"M5","w":8150,"f":5.47},{"s":"M5","w":8174,"f":5.48},{"s":"M5","w":8187,"f":5.46},{"s":"M5","w":8197,"f":5.0},{"s":"M5","w":8207,"f":5.44},{"s":"M5","w":8220,"f":5.45},{"s":"M5","w":8250,"f":5.47},{"s":"M5","w":8266,"f":5.48},{"s":"M5","w":8300,"f":5.46},{"s":"M5","w":8330,"f":5.44},{"s":"M5","w":8359,"f":5.42},{"s":"M5","w":8380,"f":5.4},{"s":"M5","w":8405,"f":5.38},{"s":"M5","w":8420,"f":5.33},{"s":"M5","w":8430,"f":5.22},{"s":"M5","w":8440,"f":5.17},{"s":"M5","w":8455,"f":5.25},{"s":"M5","w":8475,"f":5.28},{"s":"M5","w":8498,"f":5.28},{"s":"M5","w":8520,"f":5.3},{"s":"M5","w":8535,"f":5.25},{"s":"M5","w":8544,"f":5.13},{"s":"M5","w":8555,"f":5.3},{"s":"M5","w":8590,"f":5.35},{"s":"M5","w":8620,"f":5.36},{"s":"M5","w":8650,"f":5.34},{"s":"M5","w":8660,"f":5.21},{"s":"M5","w":8670,"f":5.35},{"s":"M5","w":8706,"f":5.38},{"s":"M5","w":8750,"f":5.41},{"s":"M5","w":8798,"f":5.45},{"s":"M5","w":8820,"f":5.44},{"s":"M5","w":8831,"f":5.35},{"s":"M5","w":8840,"f":5.45},{"s":"M5","w":8880,"f":5.46},{"s":"M5","w":8912,"f":5.48},{"s":"M5","w":8950,"f":5.47},{"s":"M5","w":8990,"f":5.5},{"s":"M5","w":8998,"f":5.61},{"s":"M5","w":9005,"f":5.4},{"s":"M5","w":9015,"f":5.35},{"s":"M5","w":9030,"f":5.46},{"s":"M5","w":9060,"f":5.5},{"s":"M5","w":9097,"f":5.53},{"s":"M5","w":9150,"f":5.56},{"s":"M5","w":9213,"f":5.58},{"s":"M5","w":9250,"f":5.56},{"s":"M5","w":9306,"f":5.53},{"s":"M5","w":9340,"f":5.54},{"s":"M5","w":9365,"f":5.52},{"s":"M5","w":9377,"f":5.91},{"s":"M5","w":9388,"f":5.51},{"s":"M5","w":9410,"f":5.52},{"s":"M5","w":9425,"f":5.5},{"s":"M5","w":9435,"f":5.83},{"s":"M5","w":9445,"f":5.5},{"s":"M5","w":9460,"f":5.54},{"s":"M5","w":9491,"f":5.57},{"s":"M5","w":9530,"f":5.55},{"s":"M5","w":9560,"f":5.57},{"s":"M5","w":9590,"f":5.53},{"s":"M5","w":9610,"f":5.56},{"s":"M5","w":9630,"f":5.5},{"s":"M5","w":9650,"f":5.55},{"s":"M5","w":9680,"f":5.57},{"s":"M5","w":9710,"f":5.52},{"s":"M5","w":9740,"f":5.57},{"s":"M5","w":9769,"f":5.55},{"s":"M5","w":9800,"f":5.57},{"s":"M5","w":9840,"f":5.56},{"s":"M5","w":9873,"f":5.57},{"s":"M5","w":9890,"f":5.52},{"s":"M5","w":9905,"f":5.4},{"s":"M5","w":9912,"f":5.35},{"s":"M5","w":9925,"f":5.45},{"s":"M5","w":9945,"f":5.48},{"s":"M5","w":9970,"f":5.52},{"s":"M5","w":10000,"f":5.53},{"s":"M5","w":10030,"f":5.56},{"s":"M5","w":10069,"f":5.55},{"s":"M5","w":10100,"f":5.53},{"s":"M5","w":10130,"f":5.57},{"s":"M5","w":10160,"f":5.54},{"s":"M5","w":10185,"f":5.52},{"s":"M5","w":10203,"f":5.53},
{"s":"M7","w":3647,"f":2.49},{"s":"M7","w":3670,"f":2.51},{"s":"M7","w":3690,"f":2.48},{"s":"M7","w":3710,"f":2.51},{"s":"M7","w":3730,"f":2.49},{"s":"M7","w":3750,"f":2.5},{"s":"M7","w":3770,"f":2.52},{"s":"M7","w":3790,"f":2.49},{"s":"M7","w":3810,"f":2.51},{"s":"M7","w":3830,"f":2.5},{"s":"M7","w":3850,"f":2.51},{"s":"M7","w":3870,"f":2.49},{"s":"M7","w":3890,"f":2.51},{"s":"M7","w":3910,"f":2.5},{"s":"M7","w":3940,"f":2.51},{"s":"M7","w":3960,"f":2.5},{"s":"M7","w":3966,"f":2.58},{"s":"M7","w":3972,"f":2.5},{"s":"M7","w":3990,"f":2.51},{"s":"M7","w":3998,"f":2.58},{"s":"M7","w":4005,"f":2.5},{"s":"M7","w":4040,"f":2.51},{"s":"M7","w":4080,"f":2.5},{"s":"M7","w":4120,"f":2.51},{"s":"M7","w":4160,"f":2.5},{"s":"M7","w":4200,"f":2.5},{"s":"M7","w":4240,"f":2.5},{"s":"M7","w":4280,"f":2.5},{"s":"M7","w":4320,"f":2.51},{"s":"M7","w":4335,"f":2.51},{"s":"M7","w":4341,"f":2.58},{"s":"M7","w":4348,"f":2.51},{"s":"M7","w":4390,"f":2.51},{"s":"M7","w":4432,"f":2.52},{"s":"M7","w":4480,"f":2.52},{"s":"M7","w":4520,"f":2.53},{"s":"M7","w":4560,"f":2.54},{"s":"M7","w":4605,"f":2.55},{"s":"M7","w":4650,"f":2.55},{"s":"M7","w":4700,"f":2.55},{"s":"M7","w":4757,"f":2.56},{"s":"M7","w":4800,"f":2.56},{"s":"M7","w":4840,"f":2.56},{"s":"M7","w":4858,"f":2.57},{"s":"M7","w":4862,"f":2.67},{"s":"M7","w":4868,"f":2.57},{"s":"M7","w":4900,"f":2.58},{"s":"M7","w":4930,"f":2.59},{"s":"M7","w":4946,"f":2.61},{"s":"M7","w":4955,"f":2.55},{"s":"M7","w":5000,"f":2.57},{"s":"M7","w":5040,"f":2.58},{"s":"M7","w":5081,"f":2.59},{"s":"M7","w":5130,"f":2.59},{"s":"M7","w":5167,"f":2.59},{"s":"M7","w":5175,"f":2.55},{"s":"M7","w":5190,"f":2.58},{"s":"M7","w":5220,"f":2.59},{"s":"M7","w":5254,"f":2.6},{"s":"M7","w":5300,"f":2.62},{"s":"M7","w":5341,"f":2.63},{"s":"M7","w":5390,"f":2.65},{"s":"M7","w":5420,"f":2.66},{"s":"M7","w":5438,"f":2.67},{"s":"M7","w":5450,"f":2.6},{"s":"M7","w":5470,"f":2.61},{"s":"M7","w":5500,"f":2.6},{"s":"M7","w":5557,"f":2.61},{"s":"M7","w":5600,"f":2.62},{"s":"M7","w":5630,"f":2.63},{"s":"M7","w":5686,"f":2.64},{"s":"M7","w":5740,"f":2.66},{"s":"M7","w":5780,"f":2.67},{"s":"M7","w":5795,"f":2.68},{"s":"M7","w":5820,"f":2.66},{"s":"M7","w":5850,"f":2.63},{"s":"M7","w":5870,"f":2.6},{"s":"M7","w":5892,"f":2.54},{"s":"M7","w":5910,"f":2.58},{"s":"M7","w":5946,"f":2.59},{"s":"M7","w":5990,"f":2.61},{"s":"M7","w":6020,"f":2.63},{"s":"M7","w":6054,"f":2.64},{"s":"M7","w":6100,"f":2.64},{"s":"M7","w":6141,"f":2.63},{"s":"M7","w":6155,"f":2.59},{"s":"M7","w":6190,"f":2.57},{"s":"M7","w":6227,"f":2.56},{"s":"M7","w":6260,"f":2.58},{"s":"M7","w":6292,"f":2.6},{"s":"M7","w":6330,"f":2.65},{"s":"M7","w":6357,"f":2.69},{"s":"M7","w":6400,"f":2.72},{"s":"M7","w":6443,"f":2.76},{"s":"M7","w":6480,"f":2.8},{"s":"M7","w":6508,"f":2.83},{"s":"M7","w":6540,"f":2.87},{"s":"M7","w":6555,"f":2.91},{"s":"M7","w":6562,"f":3.13},{"s":"M7","w":6568,"f":2.86},{"s":"M7","w":6580,"f":2.81},{"s":"M7","w":6600,"f":2.8},{"s":"M7","w":6638,"f":2.78},{"s":"M7","w":6670,"f":2.74},{"s":"M7","w":6703,"f":2.71},{"s":"M7","w":6740,"f":2.7},{"s":"M7","w":6785,"f":2.68},{"s":"M7","w":6820,"f":2.69},{"s":"M7","w":6854,"f":2.69},{"s":"M7","w":6890,"f":2.72},{"s":"M7","w":6924,"f":2.76},{"s":"M7","w":6960,"f":2.86},{"s":"M7","w":6993,"f":2.93},{"s":"M7","w":7028,"f":2.98},{"s":"M7","w":7040,"f":3.05},{"s":"M7","w":7046,"f":3.16},{"s":"M7","w":7053,"f":2.85},{"s":"M7","w":7062,"f":2.79},{"s":"M7","w":7075,"f":2.83},{"s":"M7","w":7085,"f":2.74},{"s":"M7","w":7097,"f":2.76},{"s":"M7","w":7110,"f":2.72},{"s":"M7","w":7120,"f":2.76},{"s":"M7","w":7132,"f":2.68},{"s":"M7","w":7150,"f":2.73},{"s":"M7","w":7178,"f":2.8},{"s":"M7","w":7200,"f":2.85},{"s":"M7","w":7236,"f":2.93},{"s":"M7","w":7265,"f":3.05},{"s":"M7","w":7294,"f":3.16},{"s":"M7","w":7330,"f":3.28},{"s":"M7","w":7364,"f":3.39},{"s":"M7","w":7400,"f":3.42},{"s":"M7","w":7445,"f":3.44},{"s":"M7","w":7480,"f":3.47},{"s":"M7","w":7514,"f":3.51},{"s":"M7","w":7540,"f":3.56},{"s":"M7","w":7560,"f":3.61},{"s":"M7","w":7575,"f":3.63},{"s":"M7","w":7583,"f":3.68},{"s":"M7","w":7590,"f":3.23},{"s":"M7","w":7600,"f":3.4},{"s":"M7","w":7610,"f":3.5},{"s":"M7","w":7623,"f":3.45},{"s":"M7","w":7635,"f":3.3},{"s":"M7","w":7646,"f":3.12},{"s":"M7","w":7655,"f":3.0},{"s":"M7","w":7664,"f":2.74},{"s":"M7","w":7675,"f":2.97},{"s":"M7","w":7687,"f":2.92},{"s":"M7","w":7697,"f":3.01},{"s":"M7","w":7706,"f":2.77},{"s":"M7","w":7720,"f":3.05},{"s":"M7","w":7745,"f":3.09},{"s":"M7","w":7770,"f":3.12},{"s":"M7","w":7803,"f":3.16},{"s":"M7","w":7830,"f":3.22},{"s":"M7","w":7850,"f":3.26},{"s":"M7","w":7873,"f":3.29},{"s":"M7","w":7900,"f":3.33},{"s":"M7","w":7942,"f":3.43},{"s":"M7","w":7975,"f":3.5},{"s":"M7","w":8012,"f":3.56},{"s":"M7","w":8040,"f":3.7},{"s":"M7","w":8069,"f":3.83},{"s":"M7","w":8100,"f":3.91},{"s":"M7","w":8127,"f":3.96},{"s":"M7","w":8150,"f":3.94},{"s":"M7","w":8174,"f":3.97},{"s":"M7","w":8185,"f":3.9},{"s":"M7","w":8190,"f":3.4},{"s":"M7","w":8197,"f":3.27},{"s":"M7","w":8205,"f":3.7},{"s":"M7","w":8215,"f":3.83},{"s":"M7","w":8230,"f":3.98},{"s":"M7","w":8243,"f":3.99},{"s":"M7","w":8260,"f":3.92},{"s":"M7","w":8280,"f":3.95},{"s":"M7","w":8300,"f":3.9},{"s":"M7","w":8313,"f":3.93},{"s":"M7","w":8330,"f":3.85},{"s":"M7","w":8345,"f":3.9},{"s":"M7","w":8360,"f":3.8},{"s":"M7","w":8382,"f":3.89},{"s":"M7","w":8400,"f":3.84},{"s":"M7","w":8417,"f":3.86},{"s":"M7","w":8430,"f":3.65},{"s":"M7","w":8440,"f":3.45},{"s":"M7","w":8455,"f":3.55},{"s":"M7","w":8475,"f":3.52},{"s":"M7","w":8490,"f":3.58},{"s":"M7","w":8510,"f":3.62},{"s":"M7","w":8530,"f":3.6},{"s":"M7","w":8550,"f":3.68},{"s":"M7","w":8568,"f":3.72},{"s":"M7","w":8590,"f":3.74},{"s":"M7","w":8610,"f":3.7},{"s":"M7","w":8625,"f":3.79},{"s":"M7","w":8637,"f":3.78},{"s":"M7","w":8660,"f":3.74},{"s":"M7","w":8683,"f":3.77},{"s":"M7","w":8700,"f":3.88},{"s":"M7","w":8715,"f":3.82},{"s":"M7","w":8735,"f":3.95},{"s":"M7","w":8752,"f":3.96},{"s":"M7","w":8770,"f":3.9},{"s":"M7","w":8785,"f":4.05},{"s":"M7","w":8800,"f":3.98},{"s":"M7","w":8822,"f":4.11},{"s":"M7","w":8833,"f":4.07},{"s":"M7","w":8845,"f":4.15},{"s":"M7","w":8855,"f":3.7},{"s":"M7","w":8865,"f":3.95},{"s":"M7","w":8880,"f":4.02},{"s":"M7","w":8900,"f":3.98},{"s":"M7","w":8924,"f":4.02},{"s":"M7","w":8940,"f":4.05},{"s":"M7","w":8960,"f":4.1},{"s":"M7","w":8975,"f":3.8},{"s":"M7","w":8985,"f":4.12},{"s":"M7","w":8993,"f":4.23},{"s":"M7","w":9005,"f":4.16},{"s":"M7","w":9020,"f":4.18},{"s":"M7","w":9040,"f":4.15},{"s":"M7","w":9062,"f":4.16},{"s":"M7","w":9085,"f":4.22},{"s":"M7","w":9100,"f":4.25},{"s":"M7","w":9120,"f":4.24},{"s":"M7","w":9132,"f":4.28},{"s":"M7","w":9150,"f":4.22},{"s":"M7","w":9175,"f":4.3},{"s":"M7","w":9201,"f":4.35},{"s":"M7","w":9220,"f":4.26},{"s":"M7","w":9240,"f":4.3},{"s":"M7","w":9260,"f":4.24},{"s":"M7","w":9282,"f":4.2},{"s":"M7","w":9300,"f":4.26},{"s":"M7","w":9315,"f":4.08},{"s":"M7","w":9329,"f":4.2},{"s":"M7","w":9350,"f":4.15},{"s":"M7","w":9365,"f":4.23},{"s":"M7","w":9370,"f":5.45},{"s":"M7","w":9376,"f":4.1},{"s":"M7","w":9390,"f":4.25},{"s":"M7","w":9410,"f":4.2},{"s":"M7","w":9425,"f":4.3},{"s":"M7","w":9435,"f":4.9},{"s":"M7","w":9442,"f":3.88},{"s":"M7","w":9455,"f":4.22},{"s":"M7","w":9470,"f":4.25},{"s":"M7","w":9479,"f":4.58},{"s":"M7","w":9488,"f":4.23},{"s":"M7","w":9510,"f":4.35},{"s":"M7","w":9530,"f":4.25},{"s":"M7","w":9560,"f":4.36},{"s":"M7","w":9580,"f":4.18},{"s":"M7","w":9607,"f":4.3},{"s":"M7","w":9625,"f":4.35},{"s":"M7","w":9640,"f":3.98},{"s":"M7","w":9653,"f":4.28},{"s":"M7","w":9680,"f":4.38},{"s":"M7","w":9700,"f":4.25},{"s":"M7","w":9722,"f":4.37},{"s":"M7","w":9745,"f":4.32},{"s":"M7","w":9770,"f":4.4},{"s":"M7","w":9792,"f":4.25},{"s":"M7","w":9810,"f":4.38},{"s":"M7","w":9835,"f":4.4},{"s":"M7","w":9860,"f":4.35},{"s":"M7","w":9884,"f":4.42},{"s":"M7","w":9896,"f":4.4},{"s":"M7","w":9905,"f":4.0},{"s":"M7","w":9912,"f":3.79},{"s":"M7","w":9925,"f":4.05},{"s":"M7","w":9945,"f":4.2},{"s":"M7","w":9960,"f":4.12},{"s":"M7","w":9980,"f":4.3},{"s":"M7","w":10000,"f":4.18},{"s":"M7","w":10023,"f":4.23},{"s":"M7","w":10045,"f":4.35},{"s":"M7","w":10060,"f":4.2},{"s":"M7","w":10081,"f":4.49},{"s":"M7","w":10095,"f":4.25},{"s":"M7","w":10110,"f":3.95},{"s":"M7","w":10125,"f":4.4},{"s":"M7","w":10140,"f":4.22},{"s":"M7","w":10160,"f":4.45},{"s":"M7","w":10180,"f":4.5},{"s":"M7","w":10192,"f":4.3},{"s":"M7","w":10203,"f":4.4}
],
"bottom":[
{"s":"M9","w":3647,"f":4.13},{"s":"M9","w":3655,"f":4.2},{"s":"M9","w":3662,"f":4.05},{"s":"M9","w":3670,"f":4.17},{"s":"M9","w":3678,"f":4.07},{"s":"M9","w":3686,"f":4.16},{"s":"M9","w":3694,"f":4.08},{"s":"M9","w":3702,"f":4.14},{"s":"M9","w":3710,"f":4.06},{"s":"M9","w":3720,"f":4.15},{"s":"M9","w":3730,"f":4.08},{"s":"M9","w":3745,"f":4.13},{"s":"M9","w":3760,"f":4.09},{"s":"M9","w":3780,"f":4.12},{"s":"M9","w":3800,"f":4.08},{"s":"M9","w":3825,"f":4.12},{"s":"M9","w":3850,"f":4.09},{"s":"M9","w":3880,"f":4.11},{"s":"M9","w":3910,"f":4.08},{"s":"M9","w":3940,"f":4.11},{"s":"M9","w":3970,"f":4.09},{"s":"M9","w":4000,"f":4.11},{"s":"M9","w":4050,"f":4.09},{"s":"M9","w":4100,"f":4.1},{"s":"M9","w":4150,"f":4.08},{"s":"M9","w":4200,"f":4.09},{"s":"M9","w":4250,"f":4.08},{"s":"M9","w":4300,"f":4.07},{"s":"M9","w":4330,"f":4.08},{"s":"M9","w":4335,"f":4.13},{"s":"M9","w":4340,"f":4.07},{"s":"M9","w":4400,"f":4.07},{"s":"M9","w":4450,"f":4.06},{"s":"M9","w":4500,"f":4.07},{"s":"M9","w":4560,"f":4.06},{"s":"M9","w":4620,"f":4.07},{"s":"M9","w":4680,"f":4.07},{"s":"M9","w":4740,"f":4.06},{"s":"M9","w":4800,"f":4.07},{"s":"M9","w":4855,"f":4.07},{"s":"M9","w":4860,"f":4.18},{"s":"M9","w":4865,"f":4.07},{"s":"M9","w":4920,"f":4.06},{"s":"M9","w":4960,"f":4.05},{"s":"M9","w":5004,"f":4.05},{"s":"M9","w":5040,"f":4.07},{"s":"M9","w":5080,"f":4.08},{"s":"M9","w":5134,"f":4.08},{"s":"M9","w":5180,"f":4.09},{"s":"M9","w":5230,"f":4.09},{"s":"M9","w":5290,"f":4.1},{"s":"M9","w":5340,"f":4.11},{"s":"M9","w":5380,"f":4.12},{"s":"M9","w":5415,"f":4.11},{"s":"M9","w":5440,"f":4.08},{"s":"M9","w":5480,"f":4.09},{"s":"M9","w":5520,"f":4.1},{"s":"M9","w":5572,"f":4.1},{"s":"M9","w":5577,"f":4.18},{"s":"M9","w":5582,"f":4.09},{"s":"M9","w":5640,"f":4.1},{"s":"M9","w":5700,"f":4.11},{"s":"M9","w":5760,"f":4.11},{"s":"M9","w":5820,"f":4.12},{"s":"M9","w":5880,"f":4.11},{"s":"M9","w":5886,"f":4.17},{"s":"M9","w":5892,"f":4.05},{"s":"M9","w":5900,"f":4.09},{"s":"M9","w":5950,"f":4.1},{"s":"M9","w":6000,"f":4.1},{"s":"M9","w":6063,"f":4.11},{"s":"M9","w":6120,"f":4.09},{"s":"M9","w":6170,"f":4.07},{"s":"M9","w":6214,"f":4.07},{"s":"M9","w":6260,"f":4.09},{"s":"M9","w":6300,"f":4.11},{"s":"M9","w":6344,"f":4.13},{"s":"M9","w":6400,"f":4.14},{"s":"M9","w":6450,"f":4.15},{"s":"M9","w":6495,"f":4.17},{"s":"M9","w":6530,"f":4.24},{"s":"M9","w":6549,"f":4.3},{"s":"M9","w":6556,"f":4.35},{"s":"M9","w":6560,"f":4.59},{"s":"M9","w":6565,"f":4.25},{"s":"M9","w":6580,"f":4.18},{"s":"M9","w":6620,"f":4.15},{"s":"M9","w":6660,"f":4.14},{"s":"M9","w":6711,"f":4.13},{"s":"M9","w":6760,"f":4.15},{"s":"M9","w":6819,"f":4.19},{"s":"M9","w":6870,"f":4.23},{"s":"M9","w":6927,"f":4.29},{"s":"M9","w":6970,"f":4.38},{"s":"M9","w":7000,"f":4.45},{"s":"M9","w":7020,"f":4.48},{"s":"M9","w":7040,"f":4.55},{"s":"M9","w":7052,"f":4.61},{"s":"M9","w":7060,"f":4.29},{"s":"M9","w":7080,"f":4.25},{"s":"M9","w":7100,"f":4.21},{"s":"M9","w":7143,"f":4.18},{"s":"M9","w":7175,"f":4.21},{"s":"M9","w":7208,"f":4.26},{"s":"M9","w":7240,"f":4.37},{"s":"M9","w":7273,"f":4.5},{"s":"M9","w":7300,"f":4.68},{"s":"M9","w":7327,"f":4.87},{"s":"M9","w":7350,"f":4.98},{"s":"M9","w":7381,"f":5.05},{"s":"M9","w":7410,"f":4.98},{"s":"M9","w":7446,"f":5.0},{"s":"M9","w":7480,"f":5.07},{"s":"M9","w":7511,"f":5.11},{"s":"M9","w":7535,"f":5.2},{"s":"M9","w":7555,"f":5.32},{"s":"M9","w":7570,"f":5.38},{"s":"M9","w":7583,"f":5.45},{"s":"M9","w":7590,"f":4.66},{"s":"M9","w":7610,"f":4.95},{"s":"M9","w":7624,"f":4.95},{"s":"M9","w":7632,"f":4.65},{"s":"M9","w":7641,"f":4.55},{"s":"M9","w":7655,"f":4.35},{"s":"M9","w":7670,"f":4.18},{"s":"M9","w":7685,"f":4.4},{"s":"M9","w":7702,"f":4.18},{"s":"M9","w":7720,"f":4.55},{"s":"M9","w":7739,"f":4.71},{"s":"M9","w":7760,"f":4.6},{"s":"M9","w":7780,"f":4.8},{"s":"M9","w":7793,"f":4.76},{"s":"M9","w":7810,"f":4.7},{"s":"M9","w":7830,"f":4.88},{"s":"M9","w":7858,"f":4.87},{"s":"M9","w":7880,"f":4.82},{"s":"M9","w":7900,"f":4.95},{"s":"M9","w":7923,"f":4.97},{"s":"M9","w":7950,"f":4.9},{"s":"M9","w":7975,"f":5.08},{"s":"M9","w":8000,"f":5.05},{"s":"M9","w":8020,"f":5.2},{"s":"M9","w":8042,"f":5.45},{"s":"M9","w":8065,"f":5.8},{"s":"M9","w":8086,"f":6.08},{"s":"M9","w":8110,"f":6.3},{"s":"M9","w":8140,"f":6.55},{"s":"M9","w":8155,"f":6.62},{"s":"M9","w":8172,"f":6.71},{"s":"M9","w":8180,"f":6.5},{"s":"M9","w":8186,"f":5.95},{"s":"M9","w":8194,"f":5.34},{"s":"M9","w":8202,"f":6.0},{"s":"M9","w":8216,"f":6.34},{"s":"M9","w":8232,"f":6.6},{"s":"M9","w":8248,"f":6.66},{"s":"M9","w":8265,"f":6.55},{"s":"M9","w":8281,"f":6.45},{"s":"M9","w":8295,"f":6.2},{"s":"M9","w":8313,"f":6.03},{"s":"M9","w":8325,"f":6.3},{"s":"M9","w":8340,"f":6.2},{"s":"M9","w":8357,"f":6.34},{"s":"M9","w":8375,"f":6.0},{"s":"M9","w":8390,"f":6.25},{"s":"M9","w":8400,"f":6.08},{"s":"M9","w":8412,"f":6.3},{"s":"M9","w":8422,"f":6.47},{"s":"M9","w":8433,"f":5.9},{"s":"M9","w":8444,"f":5.29},{"s":"M9","w":8452,"f":5.15},{"s":"M9","w":8461,"f":5.05},{"s":"M9","w":8475,"f":5.35},{"s":"M9","w":8490,"f":5.3},{"s":"M9","w":8497,"f":5.47},{"s":"M9","w":8508,"f":5.25},{"s":"M9","w":8519,"f":5.18},{"s":"M9","w":8535,"f":5.55},{"s":"M9","w":8551,"f":5.76},{"s":"M9","w":8570,"f":5.7},{"s":"M9","w":8590,"f":5.85},{"s":"M9","w":8617,"f":5.97},{"s":"M9","w":8635,"f":5.85},{"s":"M9","w":8655,"f":6.02},{"s":"M9","w":8681,"f":6.03},{"s":"M9","w":8690,"f":5.8},{"s":"M9","w":8700,"f":5.66},{"s":"M9","w":8715,"f":6.05},{"s":"M9","w":8730,"f":5.95},{"s":"M9","w":8746,"f":6.18},{"s":"M9","w":8762,"f":6.3},{"s":"M9","w":8779,"f":6.82},{"s":"M9","w":8790,"f":6.5},{"s":"M9","w":8800,"f":6.95},{"s":"M9","w":8811,"f":6.45},{"s":"M9","w":8825,"f":6.9},{"s":"M9","w":8838,"f":7.2},{"s":"M9","w":8855,"f":7.37},{"s":"M9","w":8863,"f":6.4},{"s":"M9","w":8872,"f":5.82},{"s":"M9","w":8885,"f":6.35},{"s":"M9","w":8898,"f":6.66},{"s":"M9","w":8915,"f":6.9},{"s":"M9","w":8930,"f":7.18},{"s":"M9","w":8945,"f":6.75},{"s":"M9","w":8963,"f":6.87},{"s":"M9","w":8980,"f":7.1},{"s":"M9","w":8996,"f":7.34},{"s":"M9","w":9010,"f":6.9},{"s":"M9","w":9029,"f":6.55},{"s":"M9","w":9040,"f":7.1},{"s":"M9","w":9050,"f":7.55},{"s":"M9","w":9070,"f":7.4},{"s":"M9","w":9093,"f":7.66},{"s":"M9","w":9110,"f":7.8},{"s":"M9","w":9126,"f":8.0},{"s":"M9","w":9140,"f":7.85},{"s":"M9","w":9158,"f":8.24},{"s":"M9","w":9175,"f":8.05},{"s":"M9","w":9191,"f":8.5},{"s":"M9","w":9200,"f":8.1},{"s":"M9","w":9213,"f":7.61},{"s":"M9","w":9225,"f":7.9},{"s":"M9","w":9245,"f":7.97},{"s":"M9","w":9265,"f":7.5},{"s":"M9","w":9278,"f":7.7},{"s":"M9","w":9289,"f":7.5},{"s":"M9","w":9305,"f":7.95},{"s":"M9","w":9321,"f":7.87},{"s":"M9","w":9335,"f":7.6},{"s":"M9","w":9354,"f":7.76},{"s":"M9","w":9365,"f":8.1},{"s":"M9","w":9376,"f":8.68},{"s":"M9","w":9386,"f":8.2},{"s":"M9","w":9397,"f":7.71},{"s":"M9","w":9410,"f":8.05},{"s":"M9","w":9425,"f":7.85},{"s":"M9","w":9440,"f":7.97},{"s":"M9","w":9460,"f":8.2},{"s":"M9","w":9479,"f":8.58},{"s":"M9","w":9492,"f":8.3},{"s":"M9","w":9505,"f":8.37},{"s":"M9","w":9520,"f":8.1},{"s":"M9","w":9537,"f":8.26},{"s":"M9","w":9555,"f":8.4},{"s":"M9","w":9571,"f":8.68},{"s":"M9","w":9585,"f":8.3},{"s":"M9","w":9602,"f":7.82},{"s":"M9","w":9612,"f":8.35},{"s":"M9","w":9624,"f":8.61},{"s":"M9","w":9635,"f":8.1},{"s":"M9","w":9646,"f":7.58},{"s":"M9","w":9660,"f":8.15},{"s":"M9","w":9678,"f":8.34},{"s":"M9","w":9695,"f":8.6},{"s":"M9","w":9705,"f":8.75},{"s":"M9","w":9717,"f":9.05},{"s":"M9","w":9730,"f":8.45},{"s":"M9","w":9743,"f":8.18},{"s":"M9","w":9760,"f":8.65},{"s":"M9","w":9775,"f":8.8},{"s":"M9","w":9798,"f":8.97},{"s":"M9","w":9810,"f":8.6},{"s":"M9","w":9830,"f":8.66},{"s":"M9","w":9842,"f":8.85},{"s":"M9","w":9853,"f":8.97},{"s":"M9","w":9870,"f":8.8},{"s":"M9","w":9884,"f":9.18},{"s":"M9","w":9896,"f":8.87},{"s":"M9","w":9902,"f":7.8},{"s":"M9","w":9913,"f":6.66},{"s":"M9","w":9920,"f":6.75},{"s":"M9","w":9928,"f":6.76},{"s":"M9","w":9940,"f":7.4},{"s":"M9","w":9950,"f":7.92},{"s":"M9","w":9960,"f":8.2},{"s":"M9","w":9971,"f":8.55},{"s":"M9","w":9982,"f":8.1},{"s":"M9","w":9993,"f":7.71},{"s":"M9","w":10005,"f":8.2},{"s":"M9","w":10025,"f":8.53},{"s":"M9","w":10036,"f":8.0},{"s":"M9","w":10047,"f":7.29},{"s":"M9","w":10060,"f":8.2},{"s":"M9","w":10073,"f":8.87},{"s":"M9","w":10085,"f":8.5},{"s":"M9","w":10100,"f":9.32},{"s":"M9","w":10110,"f":8.7},{"s":"M9","w":10122,"f":8.08},{"s":"M9","w":10137,"f":7.84},{"s":"M9","w":10145,"f":8.6},{"s":"M9","w":10154,"f":9.08},{"s":"M9","w":10165,"f":8.5},{"s":"M9","w":10176,"f":9.18},{"s":"M9","w":10187,"f":8.3},{"s":"M9","w":10196,"f":8.85},{"s":"M9","w":10203,"f":8.6},
{"s":"L1","w":3647,"f":0.2},{"s":"L1","w":3650,"f":1.25},{"s":"L1","w":3653,"f":-0.6},{"s":"L1","w":3656,"f":0.9},{"s":"L1","w":3659,"f":-0.75},{"s":"L1","w":3662,"f":1.3},{"s":"L1","w":3666,"f":-0.4},{"s":"L1","w":3670,"f":0.8},{"s":"L1","w":3673,"f":-0.5},{"s":"L1","w":3677,"f":0.6},{"s":"L1","w":3681,"f":-0.7},{"s":"L1","w":3685,"f":0.7},{"s":"L1","w":3689,"f":-0.3},{"s":"L1","w":3693,"f":0.5},{"s":"L1","w":3697,"f":-0.55},{"s":"L1","w":3702,"f":0.65},{"s":"L1","w":3707,"f":-0.2},{"s":"L1","w":3712,"f":0.45},{"s":"L1","w":3717,"f":-0.45},{"s":"L1","w":3722,"f":0.55},{"s":"L1","w":3727,"f":-0.15},{"s":"L1","w":3732,"f":0.4},{"s":"L1","w":3737,"f":-0.35},{"s":"L1","w":3742,"f":0.35},{"s":"L1","w":3748,"f":-0.5},{"s":"L1","w":3754,"f":0.45},{"s":"L1","w":3760,"f":-0.2},{"s":"L1","w":3766,"f":0.3},{"s":"L1","w":3772,"f":-0.3},{"s":"L1","w":3778,"f":0.35},{"s":"L1","w":3784,"f":-0.1},{"s":"L1","w":3790,"f":0.4},{"s":"L1","w":3796,"f":-0.25},{"s":"L1","w":3802,"f":0.25},{"s":"L1","w":3809,"f":-0.15},{"s":"L1","w":3816,"f":0.3},{"s":"L1","w":3823,"f":-0.2},{"s":"L1","w":3830,"f":0.2},{"s":"L1","w":3837,"f":-0.25},{"s":"L1","w":3844,"f":0.28},{"s":"L1","w":3851,"f":-0.1},{"s":"L1","w":3858,"f":0.22},{"s":"L1","w":3866,"f":-0.18},{"s":"L1","w":3874,"f":0.25},{"s":"L1","w":3882,"f":-0.12},{"s":"L1","w":3890,"f":0.2},{"s":"L1","w":3898,"f":-0.15},{"s":"L1","w":3906,"f":0.22},{"s":"L1","w":3914,"f":-0.08},{"s":"L1","w":3922,"f":0.18},{"s":"L1","w":3930,"f":-0.12},{"s":"L1","w":3940,"f":0.5},{"s":"L1","w":3948,"f":-0.15},{"s":"L1","w":3956,"f":0.2},{"s":"L1","w":3965,"f":-0.1},{"s":"L1","w":3974,"f":0.25},{"s":"L1","w":3983,"f":-0.05},{"s":"L1","w":3992,"f":0.18},{"s":"L1","w":4001,"f":-0.2},{"s":"L1","w":4010,"f":0.22},{"s":"L1","w":4020,"f":-0.08},{"s":"L1","w":4030,"f":0.2},{"s":"L1","w":4040,"f":-0.1},{"s":"L1","w":4050,"f":0.18},{"s":"L1","w":4060,"f":-0.05},{"s":"L1","w":4070,"f":0.15},{"s":"L1","w":4080,"f":-0.12},{"s":"L1","w":4090,"f":0.2},{"s":"L1","w":4100,"f":-0.03},{"s":"L1","w":4110,"f":0.16},{"s":"L1","w":4120,"f":-0.08},{"s":"L1","w":4132,"f":0.15},{"s":"L1","w":4144,"f":-0.05},{"s":"L1","w":4156,"f":0.17},{"s":"L1","w":4168,"f":-0.02},{"s":"L1","w":4180,"f":0.14},{"s":"L1","w":4192,"f":-0.1},{"s":"L1","w":4204,"f":0.15},{"s":"L1","w":4216,"f":-0.02},{"s":"L1","w":4228,"f":0.14},{"s":"L1","w":4240,"f":-0.06},{"s":"L1","w":4252,"f":0.12},{"s":"L1","w":4264,"f":-0.04},{"s":"L1","w":4276,"f":0.13},{"s":"L1","w":4288,"f":-0.15},{"s":"L1","w":4300,"f":0.12},{"s":"L1","w":4312,"f":-0.03},{"s":"L1","w":4325,"f":0.14},{"s":"L1","w":4338,"f":0.0},{"s":"L1","w":4351,"f":0.12},{"s":"L1","w":4364,"f":-0.02},{"s":"L1","w":4377,"f":0.13},{"s":"L1","w":4390,"f":0.01},{"s":"L1","w":4404,"f":0.12},{"s":"L1","w":4418,"f":-0.01},{"s":"L1","w":4432,"f":0.11},{"s":"L1","w":4446,"f":0.0},{"s":"L1","w":4460,"f":0.13},{"s":"L1","w":4475,"f":0.01},{"s":"L1","w":4490,"f":0.1},{"s":"L1","w":4505,"f":-0.02},{"s":"L1","w":4520,"f":0.12},{"s":"L1","w":4536,"f":0.01},{"s":"L1","w":4552,"f":0.11},{"s":"L1","w":4568,"f":-0.01},{"s":"L1","w":4584,"f":0.1},{"s":"L1","w":4600,"f":0.02},{"s":"L1","w":4616,"f":0.12},{"s":"L1","w":4632,"f":0.0},{"s":"L1","w":4648,"f":0.1},{"s":"L1","w":4664,"f":0.02},{"s":"L1","w":4680,"f":0.11},{"s":"L1","w":4696,"f":0.0},{"s":"L1","w":4712,"f":0.1},{"s":"L1","w":4730,"f":0.03},{"s":"L1","w":4748,"f":0.11},{"s":"L1","w":4766,"f":0.02},{"s":"L1","w":4784,"f":0.1},{"s":"L1","w":4802,"f":0.03},{"s":"L1","w":4820,"f":0.12},{"s":"L1","w":4838,"f":0.02},{"s":"L1","w":4856,"f":0.1},{"s":"L1","w":4874,"f":0.03},{"s":"L1","w":4892,"f":0.12},{"s":"L1","w":4910,"f":0.03},{"s":"L1","w":4928,"f":0.11},{"s":"L1","w":4946,"f":0.04},{"s":"L1","w":4964,"f":0.12},{"s":"L1","w":4982,"f":0.03},{"s":"L1","w":5000,"f":0.2},{"s":"L1","w":5018,"f":0.04},{"s":"L1","w":5036,"f":0.12},{"s":"L1","w":5054,"f":0.05},{"s":"L1","w":5072,"f":0.13},{"s":"L1","w":5090,"f":0.05},{"s":"L1","w":5108,"f":0.12},{"s":"L1","w":5126,"f":0.04},{"s":"L1","w":5144,"f":0.14},{"s":"L1","w":5162,"f":0.06},{"s":"L1","w":5180,"f":0.13},{"s":"L1","w":5198,"f":0.05},{"s":"L1","w":5216,"f":0.14},{"s":"L1","w":5234,"f":0.06},{"s":"L1","w":5252,"f":0.13},{"s":"L1","w":5270,"f":0.07},{"s":"L1","w":5288,"f":0.15},{"s":"L1","w":5306,"f":0.06},{"s":"L1","w":5324,"f":0.14},{"s":"L1","w":5342,"f":0.08},{"s":"L1","w":5360,"f":0.15},{"s":"L1","w":5378,"f":0.07},{"s":"L1","w":5396,"f":0.16},{"s":"L1","w":5414,"f":0.08},{"s":"L1","w":5432,"f":0.15},{"s":"L1","w":5450,"f":0.05},{"s":"L1","w":5460,"f":-0.12},{"s":"L1","w":5470,"f":0.1},{"s":"L1","w":5488,"f":0.16},{"s":"L1","w":5506,"f":0.08},{"s":"L1","w":5524,"f":0.18},{"s":"L1","w":5542,"f":0.09},{"s":"L1","w":5560,"f":0.17},{"s":"L1","w":5578,"f":0.08},{"s":"L1","w":5596,"f":0.16},{"s":"L1","w":5614,"f":0.09},{"s":"L1","w":5632,"f":0.17},{"s":"L1","w":5650,"f":0.07},{"s":"L1","w":5668,"f":0.16},{"s":"L1","w":5686,"f":0.06},{"s":"L1","w":5704,"f":0.15},{"s":"L1","w":5722,"f":0.07},{"s":"L1","w":5740,"f":0.16},{"s":"L1","w":5758,"f":0.05},{"s":"L1","w":5776,"f":0.15},{"s":"L1","w":5794,"f":0.06},{"s":"L1","w":5812,"f":0.14},{"s":"L1","w":5830,"f":0.05},{"s":"L1","w":5848,"f":0.13},{"s":"L1","w":5866,"f":0.06},{"s":"L1","w":5882,"f":0.12},{"s":"L1","w":5888,"f":0.62},{"s":"L1","w":5893,"f":-0.33},{"s":"L1","w":5900,"f":0.1},{"s":"L1","w":5915,"f":0.02},{"s":"L1","w":5930,"f":0.14},{"s":"L1","w":5948,"f":0.05},{"s":"L1","w":5966,"f":0.16},{"s":"L1","w":5984,"f":0.07},{"s":"L1","w":6002,"f":0.12},{"s":"L1","w":6020,"f":0.04},{"s":"L1","w":6038,"f":0.16},{"s":"L1","w":6056,"f":0.08},{"s":"L1","w":6074,"f":0.18},{"s":"L1","w":6092,"f":0.06},{"s":"L1","w":6110,"f":0.17},{"s":"L1","w":6128,"f":0.08},{"s":"L1","w":6146,"f":0.19},{"s":"L1","w":6164,"f":0.06},{"s":"L1","w":6182,"f":0.17},{"s":"L1","w":6200,"f":0.05},{"s":"L1","w":6218,"f":0.15},{"s":"L1","w":6236,"f":0.04},{"s":"L1","w":6254,"f":0.18},{"s":"L1","w":6272,"f":0.07},{"s":"L1","w":6290,"f":0.2},{"s":"L1","w":6300,"f":-0.1},{"s":"L1","w":6312,"f":0.15},{"s":"L1","w":6330,"f":0.08},{"s":"L1","w":6348,"f":0.2},{"s":"L1","w":6366,"f":0.1},{"s":"L1","w":6384,"f":0.22},{"s":"L1","w":6402,"f":0.12},{"s":"L1","w":6420,"f":0.2},{"s":"L1","w":6438,"f":0.03},{"s":"L1","w":6456,"f":0.22},{"s":"L1","w":6474,"f":0.13},{"s":"L1","w":6492,"f":0.24},{"s":"L1","w":6510,"f":0.14},{"s":"L1","w":6528,"f":0.25},{"s":"L1","w":6546,"f":0.16},{"s":"L1","w":6564,"f":0.27},{"s":"L1","w":6582,"f":0.17},{"s":"L1","w":6600,"f":0.28},{"s":"L1","w":6618,"f":0.18},{"s":"L1","w":6636,"f":0.27},{"s":"L1","w":6654,"f":0.2},{"s":"L1","w":6672,"f":0.29},{"s":"L1","w":6690,"f":0.21},{"s":"L1","w":6710,"f":0.31},{"s":"L1","w":6730,"f":0.23},{"s":"L1","w":6750,"f":0.32},{"s":"L1","w":6770,"f":0.25},{"s":"L1","w":6790,"f":0.34},{"s":"L1","w":6810,"f":0.27},{"s":"L1","w":6830,"f":0.35},{"s":"L1","w":6850,"f":0.29},{"s":"L1","w":6870,"f":0.38},{"s":"L1","w":6890,"f":0.31},{"s":"L1","w":6910,"f":0.4},{"s":"L1","w":6930,"f":0.33},{"s":"L1","w":6950,"f":0.42},{"s":"L1","w":6970,"f":0.36},{"s":"L1","w":6990,"f":0.44},{"s":"L1","w":7013,"f":0.41},{"s":"L1","w":7030,"f":0.46},{"s":"L1","w":7050,"f":0.4},{"s":"L1","w":7070,"f":0.5},{"s":"L1","w":7090,"f":0.44},{"s":"L1","w":7121,"f":0.52},{"s":"L1","w":7150,"f":0.58},{"s":"L1","w":7170,"f":0.52},{"s":"L1","w":7190,"f":0.62},{"s":"L1","w":7210,"f":0.56},{"s":"L1","w":7230,"f":0.64},{"s":"L1","w":7250,"f":0.7},{"s":"L1","w":7273,"f":0.83},{"s":"L1","w":7290,"f":0.76},{"s":"L1","w":7310,"f":0.92},{"s":"L1","w":7325,"f":0.8},{"s":"L1","w":7338,"f":0.99},{"s":"L1","w":7345,"f":1.12},{"s":"L1","w":7355,"f":0.85},{"s":"L1","w":7370,"f":0.95},{"s":"L1","w":7390,"f":0.8},{"s":"L1","w":7410,"f":0.92},{"s":"L1","w":7430,"f":0.78},{"s":"L1","w":7446,"f":0.86},{"s":"L1","w":7465,"f":0.8},{"s":"L1","w":7480,"f":0.9},{"s":"L1","w":7500,"f":0.78},{"s":"L1","w":7520,"f":0.88},{"s":"L1","w":7540,"f":0.8},{"s":"L1","w":7555,"f":0.86},{"s":"L1","w":7575,"f":0.82},{"s":"L1","w":7598,"f":0.88},{"s":"L1","w":7615,"f":0.7},{"s":"L1","w":7631,"f":0.52},{"s":"L1","w":7648,"f":0.3},{"s":"L1","w":7663,"f":0.15},{"s":"L1","w":7680,"f":0.25},{"s":"L1","w":7695,"f":0.08},{"s":"L1","w":7706,"f":0.12},{"s":"L1","w":7716,"f":0.3},{"s":"L1","w":7728,"f":0.52},{"s":"L1","w":7745,"f":0.45},{"s":"L1","w":7760,"f":0.7},{"s":"L1","w":7775,"f":0.6},{"s":"L1","w":7793,"f":0.78},{"s":"L1","w":7810,"f":0.7},{"s":"L1","w":7825,"f":0.95},{"s":"L1","w":7840,"f":0.75},{"s":"L1","w":7858,"f":0.99},{"s":"L1","w":7875,"f":0.85},{"s":"L1","w":7890,"f":1.1},{"s":"L1","w":7905,"f":0.95},{"s":"L1","w":7923,"f":1.25},{"s":"L1","w":7935,"f":0.85},{"s":"L1","w":7950,"f":1.15},{"s":"L1","w":7966,"f":0.99},{"s":"L1","w":7980,"f":1.2},{"s":"L1","w":7995,"f":1.1},{"s":"L1","w":8010,"f":1.35},{"s":"L1","w":8031,"f":1.31},{"s":"L1","w":8050,"f":1.55},{"s":"L1","w":8070,"f":1.6},{"s":"L1","w":8086,"f":1.73},{"s":"L1","w":8105,"f":1.85},{"s":"L1","w":8120,"f":2.0},{"s":"L1","w":8140,"f":2.09},{"s":"L1","w":8155,"f":2.2},{"s":"L1","w":8172,"f":2.31},{"s":"L1","w":8180,"f":2.1},{"s":"L1","w":8188,"f":1.3},{"s":"L1","w":8194,"f":1.25},{"s":"L1","w":8202,"f":1.8},{"s":"L1","w":8215,"f":2.2},{"s":"L1","w":8227,"f":2.31},{"s":"L1","w":8240,"f":2.2},{"s":"L1","w":8259,"f":2.44},{"s":"L1","w":8275,"f":2.3},{"s":"L1","w":8290,"f":2.38},{"s":"L1","w":8300,"f":2.1},{"s":"L1","w":8313,"f":2.15},{"s":"L1","w":8325,"f":2.35},{"s":"L1","w":8335,"f":2.25},{"s":"L1","w":8346,"f":1.46},{"s":"L1","w":8355,"f":2.0},{"s":"L1","w":8366,"f":2.3},{"s":"L1","w":8378,"f":2.41},{"s":"L1","w":8395,"f":2.3},{"s":"L1","w":8411,"f":2.59},{"s":"L1","w":8425,"f":2.35},{"s":"L1","w":8435,"f":2.1},{"s":"L1","w":8444,"f":1.88},{"s":"L1","w":8455,"f":1.5},{"s":"L1","w":8469,"f":1.15},{"s":"L1","w":8480,"f":1.6},{"s":"L1","w":8495,"f":1.9},{"s":"L1","w":8508,"f":1.83},{"s":"L1","w":8520,"f":2.0},{"s":"L1","w":8535,"f":1.85},{"s":"L1","w":8551,"f":2.04},{"s":"L1","w":8570,"f":1.95},{"s":"L1","w":8590,"f":2.1},{"s":"L1","w":8606,"f":2.17},{"s":"L1","w":8616,"f":1.65},{"s":"L1","w":8627,"f":1.31},{"s":"L1","w":8640,"f":1.9},{"s":"L1","w":8655,"f":2.05},{"s":"L1","w":8668,"f":1.85},{"s":"L1","w":8681,"f":2.09},{"s":"L1","w":8695,"f":1.8},{"s":"L1","w":8705,"f":1.4},{"s":"L1","w":8714,"f":1.25},{"s":"L1","w":8728,"f":1.75},{"s":"L1","w":8746,"f":1.83},{"s":"L1","w":8757,"f":1.5},{"s":"L1","w":8768,"f":1.31},{"s":"L1","w":8779,"f":2.57},{"s":"L1","w":8790,"f":1.9},{"s":"L1","w":8800,"f":2.3},{"s":"L1","w":8811,"f":2.09},{"s":"L1","w":8825,"f":2.4},{"s":"L1","w":8843,"f":2.88},{"s":"L1","w":8852,"f":2.2},{"s":"L1","w":8860,"f":1.62},{"s":"L1","w":8872,"f":2.0},{"s":"L1","w":8885,"f":2.4},{"s":"L1","w":8898,"f":2.41},{"s":"L1","w":8912,"f":2.7},{"s":"L1","w":8930,"f":3.04},{"s":"L1","w":8938,"f":2.4},{"s":"L1","w":8945,"f":1.7},{"s":"L1","w":8955,"f":2.4},{"s":"L1","w":8965,"f":2.6},{"s":"L1","w":8974,"f":2.83},{"s":"L1","w":8985,"f":3.1},{"s":"L1","w":9002,"f":3.36},{"s":"L1","w":9012,"f":2.7},{"s":"L1","w":9024,"f":2.25},{"s":"L1","w":9032,"f":2.9},{"s":"L1","w":9039,"f":3.46},{"s":"L1","w":9050,"f":3.0},{"s":"L1","w":9061,"f":2.62},{"s":"L1","w":9075,"f":3.1},{"s":"L1","w":9093,"f":3.2},{"s":"L1","w":9105,"f":3.5},{"s":"L1","w":9115,"f":3.73},{"s":"L1","w":9125,"f":3.4},{"s":"L1","w":9137,"f":3.15},{"s":"L1","w":9147,"f":3.8},{"s":"L1","w":9158,"f":4.31},{"s":"L1","w":9168,"f":3.9},{"s":"L1","w":9180,"f":3.78},{"s":"L1","w":9191,"f":4.55},{"s":"L1","w":9200,"f":3.9},{"s":"L1","w":9213,"f":3.52},{"s":"L1","w":9224,"f":4.18},{"s":"L1","w":9235,"f":3.8},{"s":"L1","w":9245,"f":4.09},{"s":"L1","w":9257,"f":3.7},{"s":"L1","w":9267,"f":4.45},{"s":"L1","w":9278,"f":3.41},{"s":"L1","w":9290,"f":3.9},{"s":"L1","w":9300,"f":3.99},{"s":"L1","w":9311,"f":4.55},{"s":"L1","w":9321,"f":2.96},{"s":"L1","w":9333,"f":3.7},{"s":"L1","w":9343,"f":4.08},{"s":"L1","w":9354,"f":4.15},{"s":"L1","w":9365,"f":3.8},{"s":"L1","w":9376,"f":5.53},{"s":"L1","w":9386,"f":3.46},{"s":"L1","w":9397,"f":4.55},{"s":"L1","w":9408,"f":3.9},{"s":"L1","w":9419,"f":4.09},{"s":"L1","w":9430,"f":4.6},{"s":"L1","w":9440,"f":5.34},{"s":"L1","w":9450,"f":3.15},{"s":"L1","w":9462,"f":4.2},{"s":"L1","w":9473,"f":4.97},{"s":"L1","w":9480,"f":3.88},{"s":"L1","w":9494,"f":5.34},{"s":"L1","w":9505,"f":4.3},{"s":"L1","w":9515,"f":4.8},{"s":"L1","w":9527,"f":4.76},{"s":"L1","w":9540,"f":4.1},{"s":"L1","w":9550,"f":4.9},{"s":"L1","w":9560,"f":5.29},{"s":"L1","w":9570,"f":4.3},{"s":"L1","w":9582,"f":4.24},{"s":"L1","w":9592,"f":4.7},{"s":"L1","w":9602,"f":4.1},{"s":"L1","w":9614,"f":5.34},{"s":"L1","w":9625,"f":4.4},{"s":"L1","w":9635,"f":4.8},{"s":"L1","w":9646,"f":4.03},{"s":"L1","w":9657,"f":4.6},{"s":"L1","w":9667,"f":4.9},{"s":"L1","w":9678,"f":5.24},{"s":"L1","w":9690,"f":4.6},{"s":"L1","w":9700,"f":5.3},{"s":"L1","w":9711,"f":6.16},{"s":"L1","w":9720,"f":5.4},{"s":"L1","w":9733,"f":4.97},{"s":"L1","w":9745,"f":5.3},{"s":"L1","w":9755,"f":4.7},{"s":"L1","w":9765,"f":5.61},{"s":"L1","w":9778,"f":5.0},{"s":"L1","w":9790,"f":5.7},{"s":"L1","w":9798,"f":6.08},{"s":"L1","w":9808,"f":5.3},{"s":"L1","w":9819,"f":5.24},{"s":"L1","w":9830,"f":5.6},{"s":"L1","w":9841,"f":5.9},{"s":"L1","w":9852,"f":6.03},{"s":"L1","w":9862,"f":5.5},{"s":"L1","w":9872,"f":6.2},{"s":"L1","w":9884,"f":6.34},{"s":"L1","w":9890,"f":5.55},{"s":"L1","w":9896,"f":4.6},{"s":"L1","w":9902,"f":2.15},{"s":"L1","w":9908,"f":3.2},{"s":"L1","w":9917,"f":1.52},{"s":"L1","w":9925,"f":2.6},{"s":"L1","w":9932,"f":2.3},{"s":"L1","w":9939,"f":3.36},{"s":"L1","w":9948,"f":2.9},{"s":"L1","w":9958,"f":3.6},{"s":"L1","w":9971,"f":2.78},{"s":"L1","w":9980,"f":3.4},{"s":"L1","w":9990,"f":3.0},{"s":"L1","w":9997,"f":4.92},{"s":"L1","w":10005,"f":2.8},{"s":"L1","w":10010,"f":1.62},{"s":"L1","w":10020,"f":3.2},{"s":"L1","w":10030,"f":4.61},{"s":"L1","w":10036,"f":3.99},{"s":"L1","w":10046,"f":4.3},{"s":"L1","w":10058,"f":2.78},{"s":"L1","w":10066,"f":4.2},{"s":"L1","w":10073,"f":5.92},{"s":"L1","w":10083,"f":4.8},{"s":"L1","w":10095,"f":6.37},{"s":"L1","w":10105,"f":5.0},{"s":"L1","w":10117,"f":6.47},{"s":"L1","w":10127,"f":5.2},{"s":"L1","w":10138,"f":4.71},{"s":"L1","w":10148,"f":5.4},{"s":"L1","w":10160,"f":6.16},{"s":"L1","w":10170,"f":5.0},{"s":"L1","w":10182,"f":5.55},{"s":"L1","w":10192,"f":4.6},{"s":"L1","w":10203,"f":3.5}
]
},
"vconcat":[
{
"width":1160,"height":698,
"resolve":{"axis":{"x":"independent","y":"independent"}},
"layer":[
{"data":{"name":"top"},
"mark":{"type":"line","strokeWidth":2.8,"clip":true},
"encoding":{
"x":{"field":"w","type":"quantitative","scale":{"domain":[3647,10203],"nice":false,"zero":false},"axis":{"orient":"bottom","values":[4000,5000,6000,7000,8000,9000,10000],"labels":false,"title":null}},
"y":{"field":"f","type":"quantitative","scale":{"domain":[2,9],"nice":false,"zero":false},"axis":{"orient":"left","values":[2,3,4,5,6,7,8,9],"title":null,"labelBaseline":"middle"}},
"color":{"field":"s","type":"nominal","scale":{"domain":["K7","M1","M3","M5","M7","M9","L1"],"range":["#000000","#5f00c5","#8004ff","#a11096","#bd2a00","#d14d00","#e48300"]},"legend":null}}},
{"data":{"values":[{"a":"top","w":5080,"f":4.145},{"a":"top","w":6376,"f":6.436}]},
"mark":{"type":"line","color":"#ff0000","strokeWidth":15,"strokeCap":"butt"},
"encoding":{"x":{"field":"w","type":"quantitative","axis":null},"y":{"field":"f","type":"quantitative","axis":null}}},
{"data":{"values":[{"a":"top","w":6462,"f":6.584}]},
"mark":{"type":"point","shape":"M0,-1L1,1L-1,1Z","size":3940,"filled":true,"fill":"#ff0000","opacity":1,"strokeWidth":0,"angle":45.6},
"encoding":{"x":{"field":"w","type":"quantitative","axis":null},"y":{"field":"f","type":"quantitative","axis":null}}},
{"data":{"values":[{"t":"K7","w":4000,"f":8.25},{"t":"M1","w":4000,"f":7.01},{"t":"M3","w":4000,"f":5.9},{"t":"M5","w":4000,"f":4.81},{"t":"M7","w":4000,"f":3.0}]},
"mark":{"type":"text","align":"left","baseline":"alphabetic","font":"Liberation Serif","fontSize":35,"color":"black"},
"encoding":{
"x":{"field":"w","type":"quantitative","axis":{"orient":"top","values":[4000,5000,6000,7000,8000,9000,10000],"labels":false,"title":null}},
"y":{"field":"f","type":"quantitative","axis":{"orient":"right","values":[2,3,4,5,6,7,8,9],"labels":false,"title":null}},
"text":{"field":"t"}}}
]
},
{
"width":1160,"height":697,
"resolve":{"axis":{"x":"independent","y":"independent"}},
"layer":[
{"data":{"name":"bottom"},
"mark":{"type":"line","strokeWidth":2.8,"clip":true},
"encoding":{
"x":{"field":"w","type":"quantitative","scale":{"domain":[3647,10203],"nice":false,"zero":false},"axis":{"orient":"bottom","values":[4000,5000,6000,7000,8000,9000,10000],"format":"d","title":"Wavelength (Å)"}},
"y":{"field":"f","type":"quantitative","scale":{"domain":[-1,10],"nice":false,"zero":false},"axis":{"orient":"left","values":[0,2,4,6,8,10],"title":"Normalized Flux + Const.","labelBaseline":"middle"}},
"color":{"field":"s","type":"nominal","scale":{"domain":["K7","M1","M3","M5","M7","M9","L1"],"range":["#000000","#5f00c5","#8004ff","#a11096","#bd2a00","#d14d00","#e48300"]},"legend":null}}},
{"data":{"values":[{"a":"bottom","w":5966,"f":2.385},{"a":"bottom","w":6700,"f":3.281}]},
"mark":{"type":"line","color":"#ff0000","strokeWidth":15,"strokeCap":"butt"},
"encoding":{"x":{"field":"w","type":"quantitative","axis":null},"y":{"field":"f","type":"quantitative","axis":null}}},
{"data":{"values":[{"a":"bottom","w":6811,"f":3.415}]},
"mark":{"type":"point","shape":"M0,-1L1,1L-1,1Z","size":3940,"filled":true,"fill":"#ff0000","opacity":1,"strokeWidth":0,"angle":66.8},
"encoding":{"x":{"field":"w","type":"quantitative","axis":null},"y":{"field":"f","type":"quantitative","axis":null}}},
{"data":{"values":[{"t":"M9","w":4000,"f":5.0},{"t":"L1","w":4000,"f":2.0}]},
"mark":{"type":"text","align":"left","baseline":"alphabetic","font":"Liberation Serif","fontSize":35,"color":"black"},
"encoding":{
"x":{"field":"w","type":"quantitative","axis":{"orient":"top","values":[4000,5000,6000,7000,8000,9000,10000],"labels":false,"title":null}},
"y":{"field":"f","type":"quantitative","axis":{"orient":"right","values":[0,2,4,6,8,10],"labels":false,"title":null}},
"text":{"field":"t"}}}
]
}
]
}
